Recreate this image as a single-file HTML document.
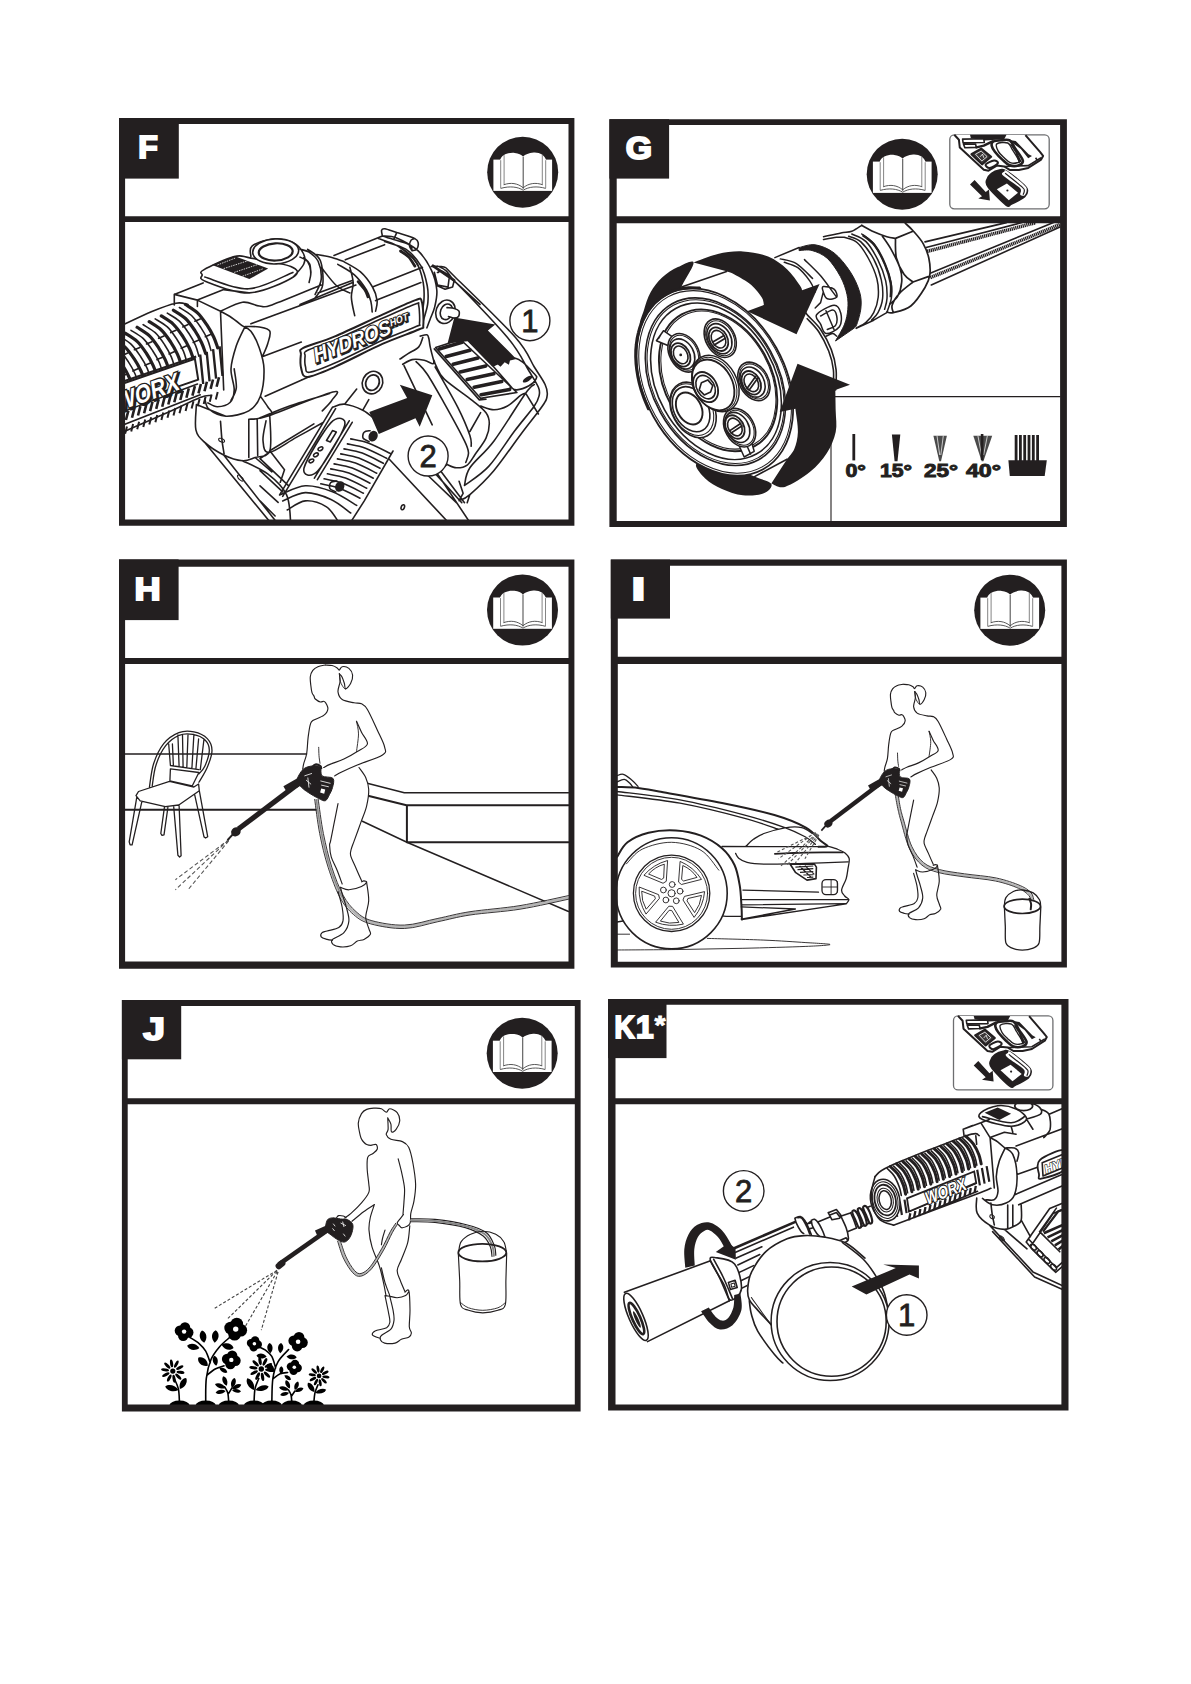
<!DOCTYPE html>
<html><head><meta charset="utf-8"><title>Manual page F–K1</title>
<style>
html,body{margin:0;padding:0;background:#fff}
body{width:1191px;height:1684px;overflow:hidden}
svg{display:block}
.lab{font-family:"Liberation Sans",sans-serif;font-weight:bold;fill:#fff;stroke:#fff;stroke-width:2px;font-size:32px;stroke-linejoin:miter}
.num{font-family:"Liberation Sans",sans-serif;font-size:36px;fill:#231f20}
.ln{fill:none;stroke:#231f20;stroke-width:1.3;stroke-linecap:round;stroke-linejoin:round}
.lw{fill:#fff;stroke:#231f20;stroke-width:1.3;stroke-linecap:round;stroke-linejoin:round}
.lt{fill:none;stroke:#231f20;stroke-width:0.9;stroke-linecap:round;stroke-linejoin:round}
.lb{fill:none;stroke:#231f20;stroke-width:2;stroke-linecap:round;stroke-linejoin:round}
#panelF .ln,#panelG .ln,#panelK .ln{stroke-width:1.6}
#panelF .lw,#panelG .lw,#panelK .lw{stroke-width:1.6}
#panelF .lt,#panelG .lt,#panelK .lt{stroke-width:1.05}
#womanH .ln,#panelJ .ln{stroke-width:1.15}
.ln,.lt,.lb,.lw{vector-effect:non-scaling-stroke}
.bk{fill:#231f20;stroke:none}
.wh{fill:#fff;stroke:none}
</style></head><body>
<svg width="1191" height="1684" viewBox="0 0 1191 1684">
<defs>
<g id="book">
<circle r="35.5" fill="#231f20"/>
<rect x="-29.3" y="-12.6" width="58.7" height="31.3" fill="#fff"/>
<path d="M-22.6 17 V-12 C-21 -18 -14 -19.8 -8 -19.3 C-4 -19 -1.5 -17.5 0.4 -15.6 C2.5 -17.5 6 -19.3 11 -19.6 C17 -20 22 -17 23.4 -12 V17 Z" fill="#fff"/>
<path d="M-22 -12 V16 M-18.6 -17 V12.5 M23 -12 V16 M19.6 -17.5 V12.5" fill="none" stroke="#777" stroke-width="0.9"/>
<path d="M0.5 -15.5 V16.5" fill="none" stroke="#555" stroke-width="1.1"/>
<path d="M-19 12.6 C-12 10 -5 11 0.5 15.6 C6 11 13 10 20 12.6 M-22 16.2 C-13 13.6 -5 14.6 0.5 18 C6 14.6 14 13.6 23 16.2" fill="none" stroke="#444" stroke-width="0.9"/>
</g>
<clipPath id="clipF"><rect x="122" y="219" width="449" height="303"/></clipPath>
<clipPath id="clipG"><rect x="613" y="220" width="450" height="304"/></clipPath>
<clipPath id="clipH"><rect x="122" y="661" width="449" height="303"/></clipPath>
<clipPath id="clipI"><rect x="614" y="660" width="450" height="304"/></clipPath>
<clipPath id="clipJ"><rect x="125" y="1101" width="452" height="306"/></clipPath>
<clipPath id="clipK"><rect x="612" y="1101" width="452" height="306"/></clipPath>
</defs>
<rect width="1191" height="1684" fill="#fff"/>
<g id="panelF" clip-path="url(#clipF)">
<path d="M119.6 326.3 L151.9 311.5 L177.4 302.8 L194.9 304.8 L219 330.3 L224.4 392.1 L200.2 397.5 L165.3 413.6 L119.6 433.7Z" class="wh"/>
<path d="M185.5 304.5 C187.5 305.9 193.9 309.4 197.5 312.8 C201.1 316.2 204.2 320.9 206.9 324.9 C209.6 328.9 211.9 333.2 213.7 337 C215.5 340.8 217 346 217.7 347.8 M173.4 310.2 C175.4 311.6 181.9 315.1 185.5 318.5 C189.1 321.9 192.2 326.6 194.9 330.6 C197.6 334.6 199.8 338.9 201.6 342.7 C203.4 346.5 204.9 351.7 205.6 353.5 M161.3 315.9 C163.3 317.3 169.8 320.9 173.4 324.3 C177 327.7 180.1 332.3 182.8 336.3 C185.5 340.3 187.7 344.6 189.5 348.4 C191.3 352.2 192.8 357.4 193.5 359.2 M149.2 321.6 C151.2 323 157.7 326.6 161.3 330 C164.9 333.4 168 338.1 170.7 342.1 C173.4 346.1 175.6 350.3 177.4 354.1 C179.2 357.9 180.7 363.1 181.4 364.9 M137.1 327.3 C139.1 328.7 145.6 332.3 149.2 335.7 C152.8 339.1 155.9 343.8 158.6 347.8 C161.3 351.8 163.5 356.1 165.3 359.9 C167.1 363.7 168.6 368.8 169.3 370.6 M125 333.1 C127 334.5 133.5 338 137.1 341.4 C140.7 344.8 143.8 349.5 146.5 353.5 C149.2 357.5 151.4 361.8 153.2 365.6 C155 369.4 156.5 374.5 157.2 376.3 M112.9 338.8 C114.9 340.2 121.4 343.7 125 347.1 C128.6 350.5 131.7 355.2 134.4 359.2 C137.1 363.2 139.3 367.5 141.1 371.3 C142.9 375.1 144.5 380.2 145.2 382 M100.8 344.5 C102.8 345.9 109.3 349.4 112.9 352.8 C116.5 356.2 119.6 360.9 122.3 364.9 C125 368.9 127.2 373.2 129 377 C130.8 380.8 132.4 385.9 133.1 387.7 M88.7 350.2 C90.7 351.6 97.2 355.1 100.8 358.5 C104.4 361.9 107.5 366.6 110.2 370.6 C112.9 374.6 115.1 378.9 116.9 382.7 C118.7 386.5 120.3 391.6 121 393.4" fill="none" stroke="#231f20" stroke-width="3.2" stroke-linecap="round"/>
<path class="ln" d="M179.4 307.5 C181.4 308.8 187.9 312.1 191.5 315.5 C195.1 318.9 198.2 323.6 200.9 327.6 C203.6 331.6 205.9 335.9 207.6 339.7 C209.3 343.5 210.4 348.7 211 350.5 M200.2 318.9 L194.9 321.2 M211 334.3 L205.3 336.7 M167.3 313.2 C169.3 314.5 175.8 317.8 179.4 321.2 C183 324.6 186.1 329.3 188.8 333.3 C191.5 337.3 193.8 341.6 195.5 345.4 C197.2 349.2 198.3 354.4 198.9 356.2 M188.1 324.6 L182.8 326.9 M198.9 340 L193.2 342.5 M155.2 318.9 C157.2 320.2 163.7 323.5 167.3 326.9 C170.9 330.2 174 335 176.7 339 C179.4 343 181.7 347.3 183.4 351.1 C185.1 354.9 186.2 360.1 186.8 361.9 M176 330.3 L170.7 332.6 M186.8 345.7 L181.2 348.2 M143.1 324.6 C145.1 326 151.6 329.4 155.2 332.7 C158.8 336 161.9 340.7 164.6 344.7 C167.3 348.7 169.6 353 171.3 356.8 C173 360.6 174.1 365.8 174.7 367.6 M164 336 L158.6 338.3 M174.7 351.5 L169.1 353.9 M131 330.3 C133 331.6 139.5 335 143.1 338.4 C146.7 341.8 149.8 346.5 152.5 350.5 C155.2 354.5 157.6 358.7 159.3 362.5 C161 366.3 162.1 371.5 162.6 373.3 M151.9 341.7 L146.5 344 M162.6 357.2 L157 359.6 M119 336 C121 337.4 127.4 340.7 131 344.1 C134.6 347.5 137.7 352.2 140.4 356.2 C143.1 360.2 145.5 364.5 147.2 368.3 C148.9 372.1 149.9 377.2 150.5 379 M139.8 347.4 L134.4 349.7 M150.5 362.9 L144.9 365.3 M106.9 341.7 C108.9 343.1 115.4 346.4 119 349.8 C122.6 353.2 125.7 357.9 128.4 361.9 C131.1 365.9 133.4 370.2 135.1 374 C136.8 377.8 137.8 382.9 138.4 384.7 M127.7 353.1 L122.3 355.4 M138.4 368.6 L132.8 371 M94.8 347.4 C96.8 348.8 103.3 352.1 106.9 355.5 C110.5 358.9 113.6 363.6 116.3 367.6 C119 371.6 121.3 375.9 123 379.7 C124.7 383.5 125.8 388.6 126.3 390.4 M115.6 358.8 L110.2 361.1 M126.3 374.3 L120.7 376.7 M82.7 353.1 C84.7 354.5 91.2 357.8 94.8 361.2 C98.4 364.6 101.5 369.3 104.2 373.3 C106.9 377.3 109.2 381.6 110.9 385.4 C112.6 389.2 113.7 394.3 114.3 396.1 M103.5 364.6 L98.1 366.8 M114.3 380 L108.6 382.4"/>
<path d="M119.6 384.7 L194.9 358.8 L198.2 379.7 L119.6 406.6Z" fill="#fff" stroke="#231f20" stroke-width="2"/>
<path d="M119.6 382.7 L196.2 356.5" fill="none" stroke="#231f20" stroke-width="2.2"/>
<path d="M200.2 354.5 L203.2 384 M206.7 351.8 L209.6 381.3 M213.1 349.1 L216.1 378.7 M219.6 346.4 L222.5 376" fill="none" stroke="#231f20" stroke-width="2.4"/>
<path d="M219 377.3 L216.6 386.7 M213 379.5 L210.6 388.9 M206.9 381.8 L204.5 391.2 M200.9 384 L198.5 393.4 M194.9 386.2 L192.4 395.6 M188.8 388.4 L186.4 397.8 M182.8 390.6 L180.3 400 M176.7 392.8 L174.3 402.2 M170.7 395.1 L168.3 404.5 M164.6 397.3 L162.2 406.7 M158.6 399.5 L156.2 408.9 M152.5 401.7 L150.1 411.1 M146.5 403.9 L144.1 413.3 M140.4 406.1 L138 415.5 M134.4 408.4 L132 417.8 M128.4 410.6 L125.9 420" fill="none" stroke="#231f20" stroke-width="2.6"/>
<path d="M217.7 392.1 L215.8 399.5 M211.6 394.4 L209.8 401.8 M205.6 396.7 L203.7 404.1 M199.6 398.9 L197.7 406.3 M193.5 401.2 L191.6 408.6 M187.5 403.5 L185.6 410.9 M181.4 405.8 L179.5 413.2 M175.4 408.1 L173.5 415.5 M169.3 410.4 L167.5 417.8 M163.3 412.6 L161.4 420 M157.2 414.9 L155.4 422.3 M151.2 417.2 L149.3 424.6 M145.2 419.5 L143.3 426.9 M139.1 421.8 L137.2 429.2 M133.1 424.1 L131.2 431.5 M127 426.4 L125.1 433.7" fill="none" stroke="#231f20" stroke-width="2"/>
<text x="0" y="0" transform="translate(119.19999999999999 413.0) rotate(-19.5) skewX(-12)" style="font-family:'Liberation Sans',sans-serif;font-weight:bold;font-size:25px;fill:#231f20;stroke:#231f20;stroke-width:3.2px;paint-order:stroke" textLength="66" lengthAdjust="spacingAndGlyphs">WORX</text>
<text x="0" y="0" transform="translate(117.6 411.6) rotate(-19.5) skewX(-12)" style="font-family:'Liberation Sans',sans-serif;font-weight:bold;font-size:25px;fill:#fff;stroke:#231f20;stroke-width:2.6px;paint-order:stroke" textLength="66" lengthAdjust="spacingAndGlyphs">WORX</text>
<path class="ln" d="M119.6 326.5 C125 324 142.5 315.4 151.9 311.5 C161.3 307.6 170 304.4 176 303.2 C182 302 186.1 304.3 188.1 304.5 M119.6 433.5 C127.2 430.2 151.9 419.6 165.3 413.6 C178.7 407.6 192.6 400.5 200.2 397.5 C207.8 394.5 209.2 395.8 211 395.5 M119.6 412.9 L197.5 384 M119.6 426.4 L200.2 394.8 M174.3 294.4 L197.4 300.1 L220.5 311.2 L223.7 389.9 M174.3 294.4 L174.3 304.9 M197.4 300.1 L197.4 306.4 M174.3 294.4 L203.1 282.9 M197.4 300.1 L223.7 289.6 M220.5 311.2 C224.2 309.7 236 303.1 242.5 302.2 C249 301.3 254.4 305.6 259.3 306 C264.2 306.4 261.6 308.4 271.9 304.9 C282.2 301.4 313.1 288.3 321.3 285 M223.7 289.6 L248.8 292.9 M242.5 325.9 C243.9 326.8 248.1 327.5 250.9 331.2 C253.7 334.9 257.1 341.6 259.3 347.9 C261.5 354.2 263.8 360.8 264 368.9 C264.2 376.9 262.9 389.2 260.4 396.2 C257.9 403.2 254.6 407.6 248.8 410.9 C243 414.2 232.4 416.5 225.8 416.2 C219.2 415.9 212.5 412.1 209 409.2 C205.5 406.3 205.5 400.4 204.8 398.7 M245.1 326.5 C243.6 329.7 238.7 338.7 236.3 345.8 C234 352.9 231.3 361.5 231 368.9 C230.7 376.2 234.4 384.3 234.2 389.9 C234 395.5 232.8 399.7 230 402.5 C227.2 405.3 221.1 406.6 217.4 406.7 C213.7 406.8 209.5 403.5 207.9 402.9 M245.1 326.5 C247.5 326.6 255.2 326.2 259.3 327 C263.4 327.8 268.4 328.4 269.8 331.2 C271.2 334 268.9 339.5 267.7 343.7 C266.5 347.9 263.4 354.2 262.5 356.3 M234.2 368.9 C234.5 372 236.8 382.6 236.3 387.8 C235.8 393.1 231.9 398.3 231 400.4 M220.5 311.2 C222.1 312.1 226.3 314.1 230 316.5 C233.7 318.9 240.4 324.3 242.5 325.9 M260.4 396.2 C261.6 397.9 265.8 403.7 267.7 406.7 C269.6 409.7 273.3 412.2 271.9 414.1 C270.5 416 263.1 417.4 259.3 418.3 C255.5 419.2 250.6 419.1 248.8 419.3 M250.9 323.8 L355.9 285 M263.5 356.3 L301.3 342.1 M265.2 396.2 L301.7 379.9 M269.8 415.5 C280.3 411.6 322.5 394.5 332.8 392 C343.1 389.5 333.6 397.2 331.8 400.4 C330.1 403.5 323.9 409.1 322.3 410.9 M301.7 379.9 L331.8 366.8 M196.4 404.6 C196.3 408.8 194.5 423.5 195.9 429.8 C197.3 436.1 200.2 438.2 204.8 442.4 C209.4 446.6 217.4 451.9 223.7 455 C230 458.1 237.3 460.3 242.5 460.7 C247.7 461.1 250.5 459.1 255.1 457.5 C259.6 455.9 267.4 457.8 269.8 450.8 C272.2 443.8 269.8 421.4 269.8 415.5 M196.4 404.6 L225.8 416.2 M248.8 419.3 L248.8 457.5 M257.2 419.3 L257.7 455.4 M220.5 421.4 C220.8 424.5 221.4 434.9 222 440.3 C222.6 445.7 223.8 451.6 224.1 453.9 M269.8 450.8 L313.9 423.9 M223.7 455 L278.2 524.3 M204.8 442.4 L271.9 524.3 M242.5 460.7 C246.7 462.9 260.3 468.2 267.7 473.9 C275.1 479.6 282.8 486.5 286.6 494.9 C290.5 503.3 290.1 519.4 290.8 524.3 M269.8 450.8 L284.5 469.7 L280.3 482.3 M255.1 457.5 L271.9 471.8 M203.7 269.9 C209 266.8 226.3 258.6 234.2 256.6 C242.1 254.6 241.5 256.5 250.9 258.1 C260.3 259.8 283.7 263.4 290.8 266.5 C297.9 269.6 300.2 272.6 293.3 277 C286.4 281.4 264 292.2 249.3 292.9 C234.6 293.6 213 284.2 205.2 281.2 C197.3 278.2 202.4 276.8 202.2 274.9 C201.9 273 198.4 272.9 203.7 269.9Z M204.8 277 C212.1 279 234.1 289.6 248.8 288.8 C263.5 288 285.5 275.1 292.9 272.4 M250.9 256.6 C251.1 254.9 248.5 249 252 246.1 C255.5 243.2 265.1 239.8 271.9 239.2 C278.7 238.6 287.6 240.2 292.9 242.6 C298.1 245 301.6 249.9 303.4 253.5 C305.2 257.1 305.5 260.1 303.8 264 C302.1 267.9 295.1 274.8 293.3 277 M307.6 249.3 C309.7 251.1 317.7 254.2 320.2 260.2 C322.7 266.1 323.6 278.7 322.7 285 C321.8 291.3 316.3 295.8 315 298 M303.8 257.7 C304.8 258.8 308.5 261.2 309.7 264 C310.9 266.8 310.6 272.8 310.8 274.5 M334 255.5 L382.4 235.9 M345.3 259.8 L384.6 244.7 M300 304.4 L352.1 282.8 M318.1 293 L352.9 280.2 M372.5 287 L422.4 267.3 M375.6 300.6 L420.9 282.5 M343.8 261.6 C346.6 263.3 355.7 267.7 360.5 271.9 C365.3 276.1 369.7 282.2 372.5 287 C375.3 291.8 376.6 296.6 377.1 300.6 C377.6 304.6 375.9 309.4 375.6 311.2 M337.8 264.3 C340.6 266.1 349.6 270.6 354.4 274.9 C359.2 279.2 363.7 285.5 366.5 290 C369.3 294.5 370.1 298.5 371 302.1 C371.9 305.8 372 310.3 372.2 311.9 M316.6 254.5 C318.9 254.9 325.7 255.9 330.2 257.1 C334.7 258.3 341.5 260.9 343.8 261.6 M349.9 267.3 C350.4 269.8 352.9 277.4 353.2 282.5 C353.4 287.6 351.1 292.1 351.4 297.6 C351.6 303.1 354.1 312.7 354.7 315.7 M321.2 267.3 C323.7 270.3 331.5 281.2 336.3 285.5 C341.1 289.8 347.6 291.8 349.9 293 M300 249.2 C301.5 249.7 306.1 250.2 309.1 252.2 C312.1 254.2 316.1 256.8 318.1 261.3 C320.1 265.8 321.7 273.9 321.2 279.4 C320.7 284.9 316.1 292 315.1 294.5 M300 257.1 C301.3 257.9 305.8 259.1 307.6 261.6 C309.4 264.1 310.6 268.4 310.9 271.9 C311.1 275.4 309.4 280.7 309.1 282.5 M382.4 235.9 C384.8 236.2 390.8 235.4 396.7 237.9 C402.6 240.4 412.1 245.3 417.9 250.7 C423.7 256.1 428.4 263.8 431.5 270.4 C434.6 276.9 436.2 284 436.8 290 C437.4 296 435.9 301.8 434.8 306.6 C433.7 311.4 431.6 315.2 430.3 318.7 C429 322.2 427.5 326.3 426.9 327.8 M384.6 241.6 C388.1 242.9 399.8 245.2 405.8 249.2 C411.9 253.2 417.3 259.8 420.9 265.8 C424.5 271.9 426 279.4 427.2 285.5 C428.4 291.6 428.3 297.1 427.9 302.1 C427.5 307.1 426 311.4 424.8 315.7 C423.6 320 421.5 325.8 420.9 327.8 M378.6 238.6 C381.9 239.9 391.9 242.2 398.2 246.2 C404.5 250.2 412.2 256.8 416.4 262.8 C420.6 268.9 421.9 276.2 423.2 282.5 C424.4 288.8 424.3 294.6 423.9 300.6 C423.5 306.6 421.4 315.7 420.9 318.7 M382.4 235.9 C382.3 235 381.2 231.5 381.6 230.3 C382 229.1 382.4 228.4 384.9 228.8 C387.4 229.2 391.7 231 396.7 232.6 C401.7 234.2 411.3 236.8 414.9 238.6 C418.5 240.4 417.9 241.4 418.2 243.2 C418.5 245 417.7 247.9 416.7 249.2 C415.7 250.4 412.9 250.4 412.1 250.7 M412.1 250.7 C411.6 249.7 412.7 246.7 409.1 244.7 C405.5 242.7 395.1 240.1 390.7 238.6 C386.2 237.1 383.8 236.3 382.4 235.9 M396.7 232.6 L394 238.9 M412.1 250.7 C411.7 249.9 409.8 248 409.6 246.2 C409.4 244.4 410.2 241.4 411.1 240.1 C412 238.8 414.3 238.8 414.9 238.6 M454.1 280.9 L480 304.4 M436.8 285.5 L445.1 289.3 L452.6 287 L454.1 280.9 M431.3 266.5 C433.4 266.6 440 265.5 443.8 267.1 C447.6 268.7 442.4 264.5 454.3 276.2 C466.2 287.9 502.2 322.4 515.5 337.5 C528.8 352.6 529.4 359.2 534.3 367 C539.2 374.8 543 379.8 545.1 384.5 C547.2 389.2 547.7 391.6 547.2 395.2 C546.8 398.8 546.8 399.5 542.4 406 C538 412.5 529 423.4 520.9 434.2 C512.8 444.9 502.5 460.4 494 470.5 C485.5 480.6 475.7 489.6 469.9 494.6 C464.1 499.6 460.9 499.7 459.1 500.7 M437.5 272.4 C439.6 273.2 438.4 266.1 450.1 277 C461.8 287.9 494.4 321.8 507.5 337.5 C520.6 353.2 523.9 362.7 529 371 C534.1 379.3 536.7 383.2 538.4 387.2 C540.1 391.2 539.9 392.1 539.2 395.2 C538.5 398.3 538.5 399.9 534.3 406 C530.1 412.1 521.8 421.4 514.2 431.5 C506.6 441.6 497 457.4 488.7 466.4 C480.4 475.4 468.5 482.3 464.5 485.5 M437.5 266.1 C438.9 266.9 443.1 268.1 445.9 270.7 C448.7 273.3 452.9 279.9 454.3 281.8 M434.4 272.4 L437.5 285 L448 287.1 L449.1 278.7 M459.1 500.7 L463.1 493.3 L459.1 481.2 M469.9 494.6 L467.2 502.7 M437.5 473.9 L471.1 524.3 M389.3 459.2 L450.1 524.3 M447 464.4 L440.3 470.5 L464.5 502.7 M426.9 474.5 L456.4 502.7 M434.9 473.1 L461.8 502.7 M402.7 364.3 C404.3 363.5 408.5 360.3 412.1 359.6 C415.7 358.9 420.7 359.6 424.2 360.3 C427.7 361 431.3 363.7 432.9 363.7 C434.5 363.7 433.4 360 433.9 360.3 C434.4 360.6 434.3 362.6 436 365.7 C437.7 368.8 438.2 373.3 444.3 379.1 C450.4 384.9 465.6 395 472.5 400.6 C479.4 406.2 483.2 408.9 486 412.7 C488.8 416.5 489.3 419.1 489.3 423.4 C489.3 427.6 488.4 433 486 438.2 C483.6 443.4 478.3 449.8 475.2 454.3 C472.1 458.8 470.3 462.9 467.2 465.1 C464.1 467.4 459.8 467.9 456.4 467.8 C453 467.7 448.6 465 447 464.4 M416.1 361.6 C417.9 363.6 422.2 366.8 426.9 373.7 C431.6 380.6 438 392.1 444.3 403.3 C450.6 414.5 460.5 432.6 464.5 440.9 C468.5 449.2 468.3 449.4 468.5 453 C468.7 456.6 466.2 460.8 465.8 462.4 M435.2 367 C439 373.7 452 395.9 457.8 407.3 C463.6 418.7 467.7 429 469.9 435.5 C472.1 442 471 444.5 471.2 446.3 M480.6 412.7 L469.9 431.5 M404 365.7 L432.2 424.8 M420.2 336.1 C421.3 335.9 425.4 334.4 426.9 334.8 C428.3 335.2 428.3 336.8 428.9 338.8 C429.4 340.8 429.4 343.3 430.2 346.9 C431 350.5 433 358.1 433.6 360.3 M422.8 337.5 C422.1 339.1 421.2 344.2 418.8 346.9 C416.4 349.6 411.2 351.6 408.1 353.6 C405 355.6 401.4 358.1 400 359 M480.6 406 C482.8 406.6 489.5 409.7 494 409.7 C498.5 409.7 503 408.4 507.5 406 C512 403.6 517.9 397.3 520.9 395.2 C523.9 393.1 524.8 393.5 525.6 393.2 M525.6 393.2 L538.4 414 M534.3 384.5 C532.8 385.9 532.3 383.8 525.6 393.2 C518.9 402.6 503.3 428.5 494 440.9 C484.7 453.3 474.8 460.4 469.9 467.8 C465 475.2 465.4 482.3 464.5 485.2 M435.6 347.5 L460.5 339.5 L516.9 392.5 L480.6 398.2Z M434.3 348.9 L479.3 399.9 L486 399.3 M492.7 365.7 C496.5 364.5 508.6 357 515.5 358.3 C522.4 359.6 530.9 370.2 534.3 373.7 C537.7 377.2 536.8 377.1 535.9 379.1 C535 381.1 532.2 384 529 385.8 C525.8 387.6 520 389.7 516.9 389.9 C513.8 390.1 511.3 387.6 510.2 387.2 M492.7 365.7 L511.5 387.2 M350.7 438.9 C353.7 439.6 362.2 440.8 368.8 443.2 C375.4 445.6 386.5 451.6 390 453.3 M347.4 443.9 C350.4 444.6 359 445.8 365.5 448.2 C372 450.6 383.1 456.6 386.6 458.3 M344 448.9 C347 449.6 355.6 450.7 362.2 453.1 C368.8 455.5 379.8 461.6 383.3 463.3 M340.7 453.9 C343.7 454.6 352.2 455.7 358.8 458.1 C365.4 460.5 376.5 466.6 380 468.3 M337.4 458.9 C340.4 459.6 348.9 460.7 355.5 463.1 C362.1 465.5 373.2 471.5 376.7 473.2 M334.1 463.9 C337.1 464.6 345.7 465.7 352.2 468.1 C358.7 470.5 369.8 476.5 373.3 478.2 M330.7 468.9 C333.7 469.6 342.3 470.7 348.9 473.1 C355.4 475.5 366.5 481.5 370 483.2 M327.4 473.8 C330.4 474.5 338.9 475.7 345.5 478.1 C352.1 480.5 363.2 486.5 366.7 488.2 M324.1 478.8 C327.1 479.5 335.6 480.7 342.2 483.1 C348.8 485.5 359.9 491.5 363.4 493.2 M320.8 483.8 C323.8 484.5 332.4 485.7 338.9 488.1 C345.4 490.5 356.5 496.5 360 498.2 M332.5 407.2 L279.6 494.9 M335.6 408.7 L282.7 496.4 M352.2 422.3 L317.4 479.7 M349.2 420.8 L314.4 478.2 M331 422.6 C337.8 415.6 346.8 417.5 344.6 425.6 C342.4 433.7 324.4 464 317.7 471 C310.9 478 301.9 475.8 304.1 467.7 C306.3 459.6 324.2 429.6 331 422.6Z M326.5 440.5 L332.5 430.6 L336.3 432.1 L330.3 442Z M332.5 407.2 C334.5 406.7 339.6 403.7 344.6 404.2 C349.7 404.7 357.8 407.7 362.8 410.2 C367.9 412.7 372.9 417.8 374.9 419.3 M279.6 494.9 C283.9 493.4 296.5 486.3 305.3 485.8 C314.1 485.3 323.9 488.5 332.5 491.8 C341.1 495.1 352.7 503.1 356.7 505.4 M282.7 500.9 C286.5 499.5 297.2 492.9 305.3 492.6 C313.4 492.4 323.4 496 331 499.4 C338.6 502.8 347.4 510.7 350.7 513 M287.2 510 C290.2 508.5 298.8 501.4 305.3 500.9 C311.9 500.4 320.9 503.4 326.5 506.9 C332.1 510.4 336.6 519.6 338.6 522.1 M393 451 L364.3 500.9 L350.7 522.1 M260 470.7 L282.7 491.8 M260 458.6 L288.7 485.8 M260 485.8 L278.1 502.4 M260 500.9 L275.1 516 M344.6 404.2 L356.7 389.1 M362.8 410.2 L368.8 399.6 M260 417.8 C265 415.8 278.6 409.7 290.2 405.7 C301.8 401.7 322.9 395.6 329.5 393.6 M266 420.8 C265.5 424.1 262.5 435.2 263 440.5 C263.5 445.8 263.6 453 269.1 452.5 C274.7 452 287.2 442.4 296.3 437.4 C305.4 432.4 319 424.8 323.5 422.3 M269.1 452.5 L260 458.6"/>
<path class="lt" d="M221.6 440.3 m-3 -1 a3 1.6 25 1 0 6 2 a3 1.6 25 1 0 -6 -2 M240.4 478.1 m-3 -2 a3.4 1.4 45 1 0 6 4 a3.4 1.4 45 1 0 -6 -4"/>
<path d="M212.1 265 L234.2 256 L268.2 268.6 L249.3 279.1Z" fill="#231f20"/>
<path d="M217.4 265 L235.2 258.1M223.7 268.6 L250.9 259.8M234.2 272.4 L259.3 264M242.5 276.2 L263.5 268.6" fill="none" stroke="#fff" stroke-width="0.8" stroke-dasharray="1.5 1"/>
<ellipse cx="275.7" cy="251.4" rx="23" ry="12.5" class="lw" transform="rotate(-3 275.7 251.4)"/>
<ellipse cx="275.7" cy="251.9" rx="17" ry="8.6" class="lw" style="stroke-width:2.2" transform="rotate(-3 275.7 251.4)"/>
<path d="M400.5 251 C401.9 252 406.4 254.6 408.8 257.1 C411.2 259.6 413.9 264.6 414.9 266.1M358.2 281.7 C359.3 283.1 363.4 287.5 365 290 C366.6 292.5 367.5 295.7 368 296.8M433 265.8 L454.1 280.3" fill="none" stroke="#231f20" stroke-width="2.8" stroke-linecap="round"/>
<path d="M404.3 250 C405.7 251.2 410.3 254.6 412.6 257.1 C414.9 259.6 417 263.8 417.9 265.1" fill="none" stroke="#231f20" stroke-width="1.6" stroke-linecap="round"/>
<path d="M303.4 347.9 C309.1 344.9 321.6 342 334.9 336.4 C348.2 330.8 369.6 320.4 383 314.4 C396.4 308.3 409 302.2 415.5 300.1 C422 298 420.5 297.7 421.8 301.8 C423.1 305.9 423.8 320.3 423.3 324.9 C422.8 329.5 425.4 326.4 418.7 329.5 C412 332.6 397 337.5 383 343.7 C369 349.9 347.5 361.3 334.9 366.8 C322.3 372.3 313.2 376.5 307.6 376.9 C302 377.2 302.4 372.7 301.3 368.9 C300.2 365.1 300.5 357.7 300.9 354.2 C301.2 350.7 297.7 350.9 303.4 347.9Z" class="lw" style="stroke-width:2"/>
<path d="M307.2 350.5 C312.2 347.9 322.3 345.4 334.9 340 C347.5 334.6 369.7 324.1 383 318.1 C396.3 312.2 408.9 306.4 414.9 304.3 C420.8 302.2 417.9 302.4 418.7 305.5 C419.5 308.6 419.9 319.7 419.5 323.2 C419.1 326.7 422.2 323.7 416.1 326.5 C410 329.3 396.5 333.9 383 340 C369.5 346.1 347.1 357.7 334.9 363.1 C322.7 368.5 314.6 371.7 309.7 372.3 C304.8 372.9 306.3 369.5 305.5 366.8 C304.7 364.1 304.8 358.6 305.1 355.9 C305.4 353.2 302.2 353.1 307.2 350.5Z" class="ln"/>
<text x="0" y="0" transform="translate(316.2 364.20000000000005) rotate(-21) skewX(-14)" style="font-family:'Liberation Sans',sans-serif;font-weight:bold;font-size:21px;fill:#231f20;stroke:#231f20;stroke-width:2.4px;paint-order:stroke" textLength="101" lengthAdjust="spacingAndGlyphs">HYDROS<tspan style="font-size:10px" dy="-7">HOT</tspan></text>
<text x="0" y="0" transform="translate(315.0 363.1) rotate(-21) skewX(-14)" style="font-family:'Liberation Sans',sans-serif;font-weight:bold;font-size:21px;fill:#fff;stroke:#231f20;stroke-width:2.0px;paint-order:stroke" textLength="101" lengthAdjust="spacingAndGlyphs">HYDROS<tspan style="font-size:10px" dy="-7">HOT</tspan></text>
<path d="M439.2 348.9 L462.1 342.3 M446.2 356.5 L470 350.2 M453.2 364.2 L477.9 358 M460.2 371.9 L485.8 365.9 M467.2 379.5 L493.8 373.7 M474.2 387.2 L501.7 381.6 M481.1 394.8 L509.6 389.5" fill="none" stroke="#231f20" stroke-width="3.6" stroke-linecap="round"/>
<ellipse cx="527.6" cy="379.1" rx="5.5" ry="2.2" class="bk" transform="rotate(-32 527.6 379.1)"/>
<ellipse cx="372.5" cy="382.6" rx="10" ry="11.5" class="lw" transform="rotate(25 372.5 382.6)"/><ellipse cx="372.5" cy="382.6" rx="6.6" ry="8" class="lw" style="stroke-width:1.8" transform="rotate(25 372.5 382.6)"/>
<ellipse cx="445.5" cy="311.8" rx="9.5" ry="12" class="lw" transform="rotate(20 445.5 311.8)"/><ellipse cx="446.5" cy="311.8" rx="6" ry="8" class="lw" transform="rotate(20 446.5 311.8)"/>
<path d="M447 307.6 C448.2 307.8 452.3 307.9 454.3 308.5 C456.3 309.1 458.3 309.9 459 311.2 C459.7 312.5 459.3 315.4 458.5 316.5 C457.7 317.6 456 318.1 454.3 318.1 C452.6 318.1 449.5 316.8 448.5 316.5" class="lw"/>
<ellipse cx="373.1" cy="436.2" rx="4.5" ry="5.5" class="bk" transform="rotate(25 373.1 436.2)"/>
<path d="M370.1 430.7 C369.1 430.9 365.3 430.9 364.1 432.2 C362.9 433.4 362.3 436.6 363.1 438.2 C363.9 439.8 368.1 441.1 369.1 441.7" class="ln"/>
<ellipse cx="339.8" cy="486.5" rx="4.5" ry="5.5" class="bk" transform="rotate(25 339.8 486.5)"/>
<path d="M336.8 481 C335.8 481.2 332 481.2 330.8 482.5 C329.6 483.8 329 486.9 329.8 488.5 C330.6 490.1 334.8 491.4 335.8 492" class="ln"/>
<ellipse cx="320.5" cy="448.8" rx="2.6" ry="1.6" class="ln" transform="rotate(-30 320.5 448.8)"/>
<ellipse cx="315.9" cy="454.8" rx="2.6" ry="1.6" class="ln" transform="rotate(-30 315.9 454.8)"/>
<ellipse cx="311.4" cy="460.9" rx="2.6" ry="1.6" class="ln" transform="rotate(-30 311.4 460.9)"/>
<ellipse cx="402.8" cy="507.2" rx="1.6" ry="2.6" class="ln" transform="rotate(20 402.8 507.2)"/>
<path d="M454.3 317.5 L495.3 324.4 L487.9 330.5 L516.3 358.9 L510 360.5 L508.9 364.7 L504.7 362.2 L500.5 366.8 L497.4 364.3 L492.1 366.4 L467.6 341.2 L447.6 343.3Z" class="bk"/>
<path d="M432.3 395.2 L399.8 384.7 L407.1 397.9 L369.3 412 L378.8 434 L415.5 418.3 L419.7 426.7Z" class="bk"/>
<circle cx="529.9" cy="320.7" r="20" class="lw" style="stroke-width:1.4"/>
<text x="529.9" y="331.7" text-anchor="middle" style="font-family:'Liberation Sans',sans-serif;font-size:31px;fill:#231f20;stroke:#231f20;stroke-width:0.8px">1</text>
<circle cx="428.1" cy="456.0" r="20" class="lw" style="stroke-width:1.4"/>
<text x="428.1" y="467.0" text-anchor="middle" style="font-family:'Liberation Sans',sans-serif;font-size:31px;fill:#231f20;stroke:#231f20;stroke-width:0.8px">2</text>
</g>
<g id="panelG">
<g transform="translate(949.2 134.2)">
<rect x="0.6" y="0.6" width="99.4" height="74" rx="4.5" fill="#fff" stroke="#6d6e70" stroke-width="1.3"/>
<path d="M5.1 0.6 L9.7 5.5 L10.6 13.4 L34.6 35.6 L39.3 36.5 L47.6 31.4 L55 32.3 L60.5 35.7 L69.7 35.7 L79 33.7 L91.9 25.4 L93.9 21.7 L91 18 L76.2 0.9" fill="#fff" stroke="#231f20" stroke-width="2" stroke-linejoin="round"/>
<path d="M20.8 0.6 L57.3 0.6 L55 5.1 L35.6 6.2 L21.7 4Z" fill="#231f20"/>
<path d="M13.4 4.9 L34.6 4.6 L35.1 8.3 L13.9 8.6ZM14.3 9.9 L26.3 9.7 L27.2 13.2 L15.7 13.6Z" fill="#fff" stroke="#231f20" stroke-width="1.6" stroke-linejoin="round"/>
<path d="M26.3 13.4 L34.6 11.5 L43.9 6.9" fill="none" stroke="#231f20" stroke-width="2.4" stroke-linejoin="round"/>
<path d="M22.2 20 L32 14.3 L42 22.6 L32.8 30.2Z" fill="#3a3637" stroke="#231f20" stroke-width="2" stroke-linejoin="round"/>
<path d="M26.3 20 L32 16.9 L37.9 22.4 L32.6 26.8ZM30.9 22.6 L33.3 19.9 L34.6 23.6" fill="none" stroke="#fff" stroke-width="0.8"/>
<path d="M36.5 30.2 C37.2 28.9 42.8 26.5 44.8 26.3 C46.8 26.1 49.4 27.8 48.7 29.1 C48 30.4 42.4 33.7 40.4 33.9 C38.4 34.1 35.8 31.5 36.5 30.2Z" fill="#fff" stroke="#231f20" stroke-width="2" stroke-linejoin="round"/>
<path d="M43.9 7.4 C45.5 6.5 49.4 6.2 52.2 6 C55 5.8 58.2 4.8 60.5 6.2 C62.8 7.6 63.8 11 66 14.3 C68.2 17.7 73 23.5 73.6 26.3 C74.2 29.1 71.9 30.3 69.7 31.1 C67.5 31.9 63.3 32.1 60.5 31.1 C57.7 30.2 55.6 27.7 53.1 25.4 C50.6 23.1 47.5 19.8 45.7 17.5 C43.9 15.2 42.8 13.2 42.5 11.5 C42.2 9.8 42.3 8.3 43.9 7.4Z" fill="#fff" stroke="#231f20" stroke-width="2.6" stroke-linejoin="round"/>
<path d="M47.6 9.7 C49.2 8.3 56 7.8 58.6 8.8 C61.2 9.8 61.4 12.8 63.3 15.7 C65.1 18.6 68.9 24.1 69.7 26.3 C70.5 28.5 69.4 28.2 67.9 28.6 C66.5 29 63.1 29.2 61 28.4 C58.9 27.6 57 25.5 55 23.6 C53 21.7 50.2 19.2 49 16.9 C47.8 14.6 46 11 47.6 9.7Z" fill="none" stroke="#231f20" stroke-width="1.4" stroke-linejoin="round"/>
<path d="M60.5 5.8 L66.5 6.7 L79.4 20 L82.8 21.9 L79 24 L71.6 14.8 L64.7 9.7Z" fill="#231f20"/>
<path d="M60.5 9.7 L64.2 10.6 L72.5 27.2 L69.7 29.1 L66 18Z" fill="#231f20"/>
<path d="M55 32.3 L79 31.4 L91.9 23.6M86.4 23.6 L88.2 26.3" fill="none" stroke="#231f20" stroke-width="1.6"/>
<path d="M37.4 46.2 C37.9 43.9 39.7 41.1 42 39.4 C44.3 37.6 48.8 36.2 51.3 35.7 C53.8 35.2 53.1 34.3 57 36.7 C60.9 39.1 70.9 47.1 74.4 50.3 C77.9 53.5 78 53.9 78.2 55.9 C78.4 57.9 78.2 60.2 75.5 62.5 C72.8 64.8 65.4 68.5 62.3 69.9 C59.2 71.3 60.6 73.6 56.8 70.8 C53 68 42.5 57.4 39.3 53.3 C36.1 49.2 36.9 48.5 37.4 46.2Z" fill="#231f20" stroke="#231f20" stroke-width="1.6" stroke-linejoin="round"/>
<path d="M55 37.6 C55.7 36.9 54.6 34.8 57.9 37 C61.2 39.2 71.5 47.6 74.8 50.7 C78.1 53.9 77.4 54.1 77.5 55.9 C77.6 57.6 76.4 60.4 75.3 61.2 C74.2 62 71.7 61.3 71.1 60.5 C70.5 59.7 72.1 57.6 71.8 56.3 C71.5 55 72.3 55.1 69.3 52.6 C66.3 50.1 56 43.6 53.6 41.1 C51.2 38.6 54.3 38.3 55 37.6Z" fill="#fff"/>
<path d="M55.9 39.1 C58.8 41.4 69.8 50 73 52.9 C76.2 55.8 74.9 55.3 75.1 56.6 C75.2 57.9 74.1 59.9 73.9 60.5" fill="none" stroke="#231f20" stroke-width="1.2"/>
<path d="M47.6 55 L57.7 49.4 L68.8 58.6 L59.6 66Z" fill="#fff"/>
<circle cx="58.2" cy="56.3" r="1.1" fill="#231f20"/>
<path d="M20.8 50.3 L25.4 45.7 L36.5 57.9 L39.8 55.4 L40.7 66.2 L29.1 64.4 L32.8 62Z" fill="#231f20"/>
</g>
<path class="ln" d="M925 241.9 L1006.3 222.6 M926.1 247.6 L1022 222.6 M929.6 273.4 L1053.5 222.6 M931.3 285 L1060 227"/>
<path d="M927.1 251.4 L1035.7 222.6M930.3 277.6 L1060 224.5" fill="none" stroke="#231f20" stroke-width="3.6" stroke-dasharray="1.3 0.6"/>
<path d="M861.7 224.7 C867 221.3 896.8 222.3 905.3 223.3 C913.8 224.3 910 227.3 913 230.7 C916 234.1 920.7 239.2 923.3 243.8 C925.9 248.4 927.7 252.9 928.8 258 C929.9 263.1 930.5 269.5 929.9 274.4 C929.3 279.3 928.2 282.2 925 287.5 C921.8 292.8 916.1 301.8 910.8 306 C905.5 310.2 897.3 311.6 893.3 312.6 C889.3 313.6 887.2 314.4 886.8 312 C886.4 309.6 890.4 303.2 891.1 298.4 C891.8 293.6 892.2 288.9 891.1 283.1 C890 277.3 887.5 270.1 884.6 263.5 C881.7 256.9 877.5 250.3 873.7 243.8 C869.9 237.3 856.4 228.1 861.7 224.7Z" fill="#fff" stroke="none"/>
<path class="ln" d="M905.3 223.3 C906.6 224.5 910 227.3 913 230.7 C916 234.1 920.7 239.2 923.3 243.8 C925.9 248.4 927.7 252.9 928.8 258 C929.9 263.1 930.5 269.5 929.9 274.4 C929.3 279.3 928.2 282.2 925 287.5 C921.8 292.8 916.1 301.8 910.8 306 C905.5 310.2 897.3 311.6 893.3 312.6 C889.3 313.6 887.9 312.1 886.8 312 M895.5 238.4 L913 231.3 M895.5 238.4 C895.6 241.7 894.9 252 896.4 258 C897.9 264 901.4 270.4 904.2 274.4 C907 278.4 911.5 280.7 913 282 M913 282 L928.2 276.6 M913 282 C910.8 283.8 903.4 289.1 899.9 292.9 C896.4 296.7 893.3 301.7 892.2 305 C891.1 308.3 893.1 311.3 893.3 312.6 M861.7 225.3 C863.7 226.4 869.5 229.9 873.7 231.8 C877.9 233.7 883.2 235.6 886.8 236.7 C890.4 237.8 894 238.1 895.5 238.4 M882.4 236.2 C883.9 238.4 888.2 244 891.1 249.3 C894 254.6 898.1 262.4 899.9 267.8 C901.7 273.2 902.1 277.3 901.7 282 C901.3 286.7 899.7 292.6 897.7 296.2 C895.8 299.8 891.3 302.6 890 303.9" style="stroke-width:1.7"/>
<path class="ln" d="M861.7 234 C863.7 235.6 869.9 238.9 873.7 243.8 C877.5 248.7 881.7 256.9 884.6 263.5 C887.5 270.1 890 277.3 891.1 283.1 C892.2 288.9 892 293.5 891.3 298.4 C890.6 303.3 887.5 310.2 886.8 312.6 M851.8 234 C854.2 235.3 861.6 237.2 866 241.6 C870.4 246 874.7 253.6 878 260.2 C881.3 266.8 884.2 274.5 885.7 280.9 C887.2 287.3 887.2 293.7 887 298.4 C886.8 303.1 885 307.5 884.6 309.3 M848.6 236.2 C850.6 237.1 856.4 237.8 860.6 241.6 C864.8 245.4 870.2 252.7 873.7 259.1 C877.2 265.5 879.8 273.2 881.3 279.8 C882.8 286.4 883.1 292.9 882.6 298.4 C882.1 303.9 879.9 309 878 312.6 C876.1 316.2 872.6 318.9 871.5 320.2 M844.2 237.3 C846.4 238.2 853.3 239.2 857.3 242.7 C861.3 246.1 864.9 252 868.2 258 C871.5 264 875.2 272.2 876.9 278.8 C878.6 285.4 878.7 291.7 878.2 297.3 C877.7 302.9 875.7 308.4 873.7 312.6 C871.7 316.8 868.9 319.8 866 322.4 C863.1 325 857.8 327.2 856.2 328.1 M856.2 328.4 L873.7 320.2 L886.8 312.6 M823.5 236.7 C826.4 236.1 836.2 233.8 840.9 232.9 C845.6 232 848.3 232.6 851.8 231.3 C855.3 230 860.1 226.3 861.7 225.3 M823.5 239.5 C825.7 239.1 833 237.7 836.5 237.3 C840 236.9 842.9 237.3 844.2 237.3" style="stroke-width:1.5"/>
<path d="M862.7 235.1 C864.7 236.8 871.1 240.6 874.8 245.5 C878.5 250.4 882.5 258.3 885.1 264.6 C887.8 270.9 889.8 277.7 890.7 283.1 C891.6 288.6 890.7 294.9 890.7 297.3" fill="none" stroke="#231f20" stroke-width="2.4"/>
<path d="M799.1 247.5 C801.8 247.1 809.4 243.9 815.2 244.8 C821 245.7 828.2 248.4 834 252.9 C839.8 257.4 845.9 265.2 850.2 271.7 C854.5 278.2 857.8 285.8 859.6 291.9 C861.4 297.9 861.4 302.6 860.9 308 C860.4 313.4 858 320.8 856.9 324.1 C855.8 327.5 854.7 327.4 854.2 328.1 L835.5 341 C837 338.2 842.6 329.4 844.6 324.1 C846.6 318.8 847.4 314.2 847.8 309.3 C848.2 304.4 848.2 300 847 294.5 C845.8 289 843.7 282.5 840.4 276.5 C837.1 270.5 832.1 262.7 827.4 258.4 C822.7 254.1 816.7 251.8 812 250.5 C807.3 249.2 801.2 250.6 799.1 250.6Z" fill="#231f20" stroke="#231f20" stroke-width="1"/>
<path class="ln" d="M774.9 257.6 L799.1 247.5 M804.5 259.6 C807.2 262.3 815.9 270.3 820.6 275.7 C825.3 281.1 830 288.3 832.7 291.9 C835.4 295.5 836 296.3 836.7 297.2 M784.3 262.3 C786.5 263.2 793.5 264.6 797.8 267.7 C802.1 270.8 807 277.1 809.9 281.1 C812.8 285.1 814.3 290.1 815.2 291.9 M780.3 258.9 C783 259.7 791 260.4 796.4 263.6 C801.8 266.9 809.8 275.9 812.5 278.4 M823.3 286.5 C825.1 286.1 831.8 287.4 834 289.2 C836.2 291 837.8 295.6 836.7 297.2 C835.6 298.8 829.5 299.7 827.3 298.8 C825.1 297.9 824 293.9 823.3 291.9 C822.6 289.8 821.5 286.9 823.3 286.5Z M816.6 314.7 C818.8 311.6 830 305.5 834 305.3 C838 305.1 839.9 309.7 840.8 313.3 C841.7 316.9 841.9 323.4 839.4 326.8 C836.9 330.2 829.1 333.9 826 333.5 C822.9 333.1 822.2 327.2 820.6 324.1 C819 321 814.4 317.8 816.6 314.7Z M820.6 316 C822.6 315 830 310 832.7 310 C835.4 310 836.2 313.4 836.7 316 C837.2 318.6 837.2 323.1 835.6 325.4 C834 327.6 828.7 328.8 827.3 329.5 M826 310.7 L834 329.5 M815.2 308 L820.6 302.6 L823.3 291.9 M826 336.2 C827.1 335.8 830.9 333.5 832.7 333.5 C834.5 333.5 836 335.8 836.7 336.2" style="stroke-width:1.5"/>
<path class="ln" d="M803.1 308 C803.8 309.1 804.3 311.1 807.2 314.7 C810.1 318.3 816.6 323.7 820.6 329.5 C824.6 335.3 828.7 342.9 831.3 349.6 C833.9 356.3 835.4 363.1 836.1 369.8 C836.8 376.5 835.7 386.5 835.6 389.9" style="stroke-width:1.6"/>
<path class="ln" d="M807.2 318.7 C809.1 320.8 815 326.1 818.6 331.5 C822.2 336.9 826.2 344.6 828.7 351 C831.2 357.4 832.7 363.5 833.4 369.8 C834.1 376.1 833.1 385.5 833.1 388.6"/>
<path d="M693.6 262.5 C693.1 259.1 683.1 264.6 677.9 267.1 C672.6 269.6 666.6 273.4 662.1 277.6 C657.6 281.8 653.6 286.9 650.6 292.3 C647.6 297.7 645.6 304.4 643.9 310.2 C642.2 316 638 323.5 640.5 327 C643 330.5 652.2 337.8 659 331.2 C665.8 324.6 675.2 298.9 681 287.5 C686.8 276.1 694.1 265.9 693.6 262.5Z" class="bk"/>
<path d="M754.5 476.6 C762 480 769.7 481 771.3 483.8 C772.9 486.6 768.6 491.3 763.9 493.2 C759.2 495.1 749.9 496 742.9 495.3 C735.9 494.6 728.3 491.8 722 489 C715.7 486.2 709.4 482.8 705.2 478.5 C701 474.2 693.3 465.9 696.8 463.4 C700.3 460.9 716.6 461.2 726.2 463.4 C735.8 465.6 747 473.2 754.5 476.6Z" class="bk"/>
<ellipse cx="714.8" cy="382.1" rx="99.7" ry="70.4" transform="rotate(61 714.8 382.1)" class="lw" style="stroke-width:1.8"/>
<ellipse cx="715.1" cy="381.9" rx="97.2" ry="68.6" transform="rotate(61 715.1 381.9)" class="lt" />
<path d="M648.5 408.8 C647.6 406.7 644.7 400.3 643.2 395.9 C641.6 391.6 640.3 387.2 639.2 382.8 C638.1 378.4 637.3 374 636.7 369.6 C636.1 365.3 635.8 360.9 635.7 356.7 C635.6 352.5 635.8 348.3 636.3 344.3 C636.7 340.3 637.4 336.3 638.4 332.6 C639.3 328.9 640.5 325.3 642 321.9 C643.4 318.5 645.1 315.3 647 312.3 C648.8 309.4 651 306.6 653.3 304.1 C655.6 301.7 658.1 299.4 660.8 297.5 C663.5 295.5 666.4 293.8 669.4 292.4 C672.4 291 675.5 289.9 678.8 289.1 C682.1 288.4 685.5 287.9 689 287.7 C692.4 287.5 697.8 288 699.6 288" fill="none" stroke="#231f20" stroke-width="3" stroke-linecap="round"/>
<ellipse cx="715.4" cy="381.7" rx="89.2" ry="63.0" transform="rotate(61 715.4 381.7)" class="ln" style="stroke-width:1.6"/>
<ellipse cx="715.6" cy="381.6" rx="87.2" ry="61.6" transform="rotate(61 715.6 381.6)" class="lt" />
<ellipse cx="716.0" cy="381.3" rx="83.2" ry="58.8" transform="rotate(61 716.0 381.3)" class="ln" />
<ellipse cx="718.1" cy="380.3" rx="75.3" ry="53.2" transform="rotate(61 718.1 380.3)" class="ln" style="stroke-width:1.9"/>
<ellipse cx="718.4" cy="380.1" rx="73.3" ry="51.7" transform="rotate(61 718.4 380.1)" class="lt" />
<path class="lw" d="M672.8 337.1 L663.5 330.7 L656.4 340.7 L668.5 345.7M661.7 333.2 L658.5 338.5M738.5 444.2 L744.2 457 L754.2 451.3 L751.3 441.3M746.3 444.2 L750.6 454.1" style="stroke-width:1.5"/>
<ellipse cx="684.0" cy="352.8" rx="20.5" ry="14.5" transform="rotate(61 684.0 352.8)" class="lw" style="stroke-width:1.6"/>
<ellipse cx="684.0" cy="352.8" rx="18.6" ry="13.1" transform="rotate(61 684.0 352.8)" class="lt" />
<ellipse cx="682.3" cy="353.9" rx="16.0" ry="11.3" transform="rotate(61 682.3 353.9)" class="ln" />
<ellipse cx="680.7" cy="354.9" rx="12.5" ry="8.8" transform="rotate(61 680.7 354.9)" class="lw" style="stroke-width:1.8"/>
<ellipse cx="680.7" cy="354.9" rx="9.4" ry="6.6" transform="rotate(61 680.7 354.9)" class="ln" />
<ellipse cx="720.2" cy="338.2" rx="20.5" ry="14.5" transform="rotate(61 720.2 338.2)" class="lw" style="stroke-width:1.6"/>
<ellipse cx="720.2" cy="338.2" rx="18.6" ry="13.1" transform="rotate(61 720.2 338.2)" class="lt" />
<ellipse cx="719.4" cy="338.7" rx="16.0" ry="11.3" transform="rotate(61 719.4 338.7)" class="ln" />
<ellipse cx="718.5" cy="339.2" rx="12.5" ry="8.8" transform="rotate(61 718.5 339.2)" class="lw" style="stroke-width:1.8"/>
<ellipse cx="718.5" cy="339.2" rx="9.4" ry="6.6" transform="rotate(61 718.5 339.2)" class="ln" />
<ellipse cx="753.9" cy="381.4" rx="20.5" ry="14.5" transform="rotate(61 753.9 381.4)" class="lw" style="stroke-width:1.6"/>
<ellipse cx="753.9" cy="381.4" rx="18.6" ry="13.1" transform="rotate(61 753.9 381.4)" class="lt" />
<ellipse cx="752.6" cy="382.1" rx="16.0" ry="11.3" transform="rotate(61 752.6 382.1)" class="ln" />
<ellipse cx="751.3" cy="382.8" rx="12.5" ry="8.8" transform="rotate(61 751.3 382.8)" class="lw" style="stroke-width:1.8"/>
<ellipse cx="751.3" cy="382.8" rx="9.4" ry="6.6" transform="rotate(61 751.3 382.8)" class="ln" />
<ellipse cx="739.6" cy="427.7" rx="20.5" ry="14.5" transform="rotate(61 739.6 427.7)" class="lw" style="stroke-width:1.6"/>
<ellipse cx="739.6" cy="427.7" rx="18.6" ry="13.1" transform="rotate(61 739.6 427.7)" class="lt" />
<ellipse cx="737.3" cy="427.4" rx="16.0" ry="11.3" transform="rotate(61 737.3 427.4)" class="ln" />
<ellipse cx="734.9" cy="427.0" rx="12.5" ry="8.8" transform="rotate(61 734.9 427.0)" class="lw" style="stroke-width:1.8"/>
<ellipse cx="734.9" cy="427.0" rx="9.4" ry="6.6" transform="rotate(61 734.9 427.0)" class="ln" />
<path class="ln" d="M712.8 342.1 L723.5 335.7M714.2 345 L724.9 338.5M747 388.5 L755.6 376.4M749.2 389.9 L757.7 378.2M729.9 430.6 L740.6 423.5M731.1 433 L742 425.9" style="stroke-width:1.7"/>
<circle cx="680.7" cy="354.9" r="1.4" class="bk"/>
<ellipse cx="693.1" cy="409.9" rx="29.5" ry="20.8" transform="rotate(61 693.1 409.9)" class="lw" style="stroke-width:1.6"/>
<ellipse cx="692.2" cy="409.6" rx="27.5" ry="19.4" transform="rotate(61 692.2 409.6)" class="lt" />
<ellipse cx="691.1" cy="409.2" rx="24.0" ry="16.9" transform="rotate(61 691.1 409.2)" class="ln" />
<ellipse cx="689.2" cy="408.5" rx="17.0" ry="12.0" transform="rotate(61 689.2 408.5)" class="lw" style="stroke-width:1.9"/>
<ellipse cx="715.6" cy="383.5" rx="30.0" ry="21.2" transform="rotate(61 715.6 383.5)" class="lw" style="stroke-width:1.5"/>
<ellipse cx="714.5" cy="384.2" rx="28.6" ry="20.2" transform="rotate(61 714.5 384.2)" class="lt" />
<ellipse cx="713.2" cy="384.9" rx="27.0" ry="19.1" transform="rotate(61 713.2 384.9)" class="lw" style="stroke-width:1.9"/>
<ellipse cx="705.6" cy="387.1" rx="16.0" ry="11.3" transform="rotate(61 705.6 387.1)" class="ln" style="stroke-width:1.8"/>
<ellipse cx="705.6" cy="387.1" rx="12.5" ry="8.8" transform="rotate(61 705.6 387.1)" class="ln" />
<path class="ln" d="M701.4 382.8 L707.8 379.9 L712.8 385.6 L710.6 392.1 L704.2 394.9 L699.2 389.9Z"/>
<path d="M693.6 262.5 C697.6 261.1 709.6 255.8 717.8 253.9 C726 252.1 734.5 250.9 742.9 251.4 C751.3 251.9 760.8 253.6 768.1 256.6 C775.5 259.6 781.8 264.5 787 269.2 C792.2 273.9 797.1 281.5 799.6 285 C802.1 288.5 801.7 289.3 802.1 290.2 L819.6 283.9 L796.5 334.3 L747.1 311.2 L763.9 304.9 C763.5 303.7 763.9 300.9 761.8 297.6 C759.7 294.3 755.8 288.9 751.3 285 C746.8 281.1 738.6 276.8 734.5 274.5 C730.4 272.2 727.9 271.8 726.6 271.3Z" class="bk"/>
<path class="ln" d="M680 287.5 L726.6 271.5"/>
<path d="M779.7 412 L797.5 363.7 L850 384.7 L835.3 389.9 C835.4 393.4 835.6 403.9 835.7 410.9 C835.8 417.9 837.2 424.9 835.7 431.9 C834.2 438.9 831.2 446.2 826.9 452.9 C822.6 459.5 817.1 466.1 810.1 471.8 C803.1 477.5 791.4 484.9 784.9 486.9 C778.4 488.8 773.6 484.1 771.3 483.5 L787 459.2 C788.2 457.4 792.6 453.2 794.4 448.7 C796.2 444.1 797.7 438.5 797.9 431.9 C798.1 425.2 795.8 412.6 795.4 408.8Z" class="bk"/>
<path class="ln" d="M754.5 476.6 L787 459.2"/>
<path d="M831 521V396.6H1060.5" fill="none" stroke="#231f20" stroke-width="1.1"/>
<rect x="852.4" y="434" width="2.8" height="26.4" class="bk"/><path d="M891.9 434.4 L900.3 434.4 L897.5 461.3 L894.6 461.3Z" class="bk"/><path d="M933.4 435.7 L946.9 435.7 L941 461.3 L939.3 461.3Z" fill="#4a4a4a"/><path d="M973.3 435.7 L992.2 435.7 L983.4 461.3 L981.7 461.3Z" fill="#4a4a4a"/><path d="M937 435.7 L939.7 455M943.3 435.7 L940.8 455M977.9 435.7 L981.5 455M987.4 435.7 L983.6 455" fill="none" stroke="#fff" stroke-width="0.7"/><rect x="980.8" y="434" width="2.6" height="26" class="bk"/><rect x="1014.7" y="435" width="2.8" height="26" class="bk"/><rect x="1019.0" y="435" width="2.8" height="26" class="bk"/><rect x="1023.3" y="435" width="2.8" height="26" class="bk"/><rect x="1027.6" y="435" width="2.8" height="26" class="bk"/><rect x="1031.9" y="435" width="2.8" height="26" class="bk"/><rect x="1036.2" y="435" width="2.8" height="26" class="bk"/><path d="M1008.4 460.2 L1046.8 460.2 L1044.7 476 L1009.8 476Z" class="bk"/>
<text x="845.4" y="477" textLength="20.5" lengthAdjust="spacingAndGlyphs" style="font-family:'Liberation Sans',sans-serif;font-weight:bold;font-size:17.6px;fill:#231f20;stroke:#231f20;stroke-width:0.9px">0°</text>
<text x="880" y="477" textLength="32" lengthAdjust="spacingAndGlyphs" style="font-family:'Liberation Sans',sans-serif;font-weight:bold;font-size:17.6px;fill:#231f20;stroke:#231f20;stroke-width:0.9px">15°</text>
<text x="924" y="477" textLength="34" lengthAdjust="spacingAndGlyphs" style="font-family:'Liberation Sans',sans-serif;font-weight:bold;font-size:17.6px;fill:#231f20;stroke:#231f20;stroke-width:0.9px">25°</text>
<text x="966" y="477" textLength="35" lengthAdjust="spacingAndGlyphs" style="font-family:'Liberation Sans',sans-serif;font-weight:bold;font-size:17.6px;fill:#231f20;stroke:#231f20;stroke-width:0.9px">40°</text>
</g>
<g id="panelH">
<path d="M125 754.1H306.5" class="ln" style="stroke-width:1.5"/>
<path d="M125 809.8H316" class="lb"/>
<path d="M368.2 783.4L404.3 792.7H568.5" class="ln" style="stroke-width:1.5"/>
<path d="M369 796L406.5 805.3H568.5M406.9 805.3V842.2H568.5" class="lb"/>
<path d="M362.4 821.2L406.9 842.2L568.5 911.5" class="ln" style="stroke-width:1.5"/>
<path class="ln" d="M149.4 787.3 C150.1 783.4 151.2 771.1 153.6 763.8 C156 756.5 159.5 748.9 163.7 743.7 C167.9 738.5 173.8 734.7 178.8 732.7 C183.8 730.7 189.2 730.9 193.9 731.9 C198.7 732.9 204.3 735.5 207.3 738.6 C210.3 741.7 212 745.6 212 750.4 C212 755.2 209.5 761.9 207.3 767.2 C205.1 772.5 200.3 779.8 198.9 782.3 M152.2 786 C152.8 782.5 153.8 771.4 156.1 764.7 C158.3 758 161.9 750.6 165.7 745.7 C169.5 740.8 174.5 737.2 179.1 735.3 C183.7 733.4 188.6 733.6 193 734.4 C197.4 735.2 202.6 737.6 205.3 740.3 C208 743 209.4 746.1 209.3 750.4 C209.2 754.7 206.5 762.4 204.8 766.3 C203.1 770.2 199.9 772.6 198.9 773.9 M168.7 744 L170.4 765.2 M172.4 744 L173.4 765.6 M177.9 734.9 L179.1 766.5 M182.5 734.9 L183.1 767.1 M188 734.4 L186.8 767.6 M193.9 734.4 L191.9 768.4 M198.6 739 L195.9 769 M204 739 L200.3 769.6 M170.4 765.5 L198.9 769.7 M170.4 768.8 L198.9 772.5 L192.2 786 L169.9 780.9Z M136 795.7 L138.5 791.5 L169.5 781.4 L193.9 787 L198.6 784 L199.3 790.7 L178.8 805 L165.3 806.6 L140.2 800.8Z M136.8 797.1 L129.2 841.9 L130.1 844.8 L132.1 844.8 L141.8 801.8 M164.5 806.6 L160.8 833.5 L162 835.3 L164 834.8 L167.9 807.5 M173.7 806.6 L177.9 855.3 L179.6 857 L181.1 855.8 L179.1 805.5 M194.7 794.9 L204 836.9 L205.6 838 L207.7 836.7 L199.3 790.7"/>
<path d="M229.2 839.4 L175.4 879.7M228.3 840.2 L175.4 889.8M228.8 840.7 L188 889.8" fill="none" stroke="#555" stroke-width="1.1" stroke-dasharray="4 2.5"/>
<path d="M316.4 799.4 C317.3 805.1 319.3 822.3 321.5 833.6 C323.8 844.9 326.6 856.7 330 867.2 C333.3 877.7 337.4 888.8 341.5 896.4 C345.7 904 349.8 908.8 354.8 913.1 C359.8 917.4 363.1 920 371.4 922.3 C379.6 924.6 393.2 927.2 404.3 926.8 C415.4 926.4 426.9 922.3 437.9 920 C448.8 917.8 456.3 915.5 470 913.4 C483.7 911.2 503.6 910.1 520 907.4 C536.4 904.7 560.4 899.1 568.5 897.4" fill="none" stroke="#b5b5b5" stroke-width="2.6"/>
<path class="lt" d="M314.7 799.4 C315.5 805.1 317.5 822.3 319.7 833.6 C321.9 844.9 324.7 856.6 328.1 867.2 C331.5 877.8 335.7 889.5 339.9 897.4 C344.1 905.3 348.4 910.1 353.5 914.5 C358.6 918.9 362.3 921.6 370.8 923.9 C379.3 926.2 393.1 928.9 404.3 928.5 C415.5 928.1 426.9 924 437.9 921.7 C448.8 919.5 456.3 917.1 470 915 C483.7 912.9 503.6 911.8 520 909.2 C536.4 906.6 560.4 900.9 568.5 899.2"/>
<path class="lt" d="M318.2 799.4 C319.1 805.1 321.1 822.3 323.4 833.6 C325.7 844.9 328.5 856.9 331.8 867.2 C335.1 877.5 339.1 888 343.2 895.4 C347.2 902.8 351.3 907.5 356.1 911.7 C360.9 915.9 363.9 918.5 371.9 920.7 C379.9 922.9 393.3 925.5 404.3 925.1 C415.3 924.7 426.9 920.6 437.9 918.4 C448.8 916.2 456.3 913.8 470 911.7 C483.7 909.6 503.6 908.3 520 905.6 C536.4 902.9 560.4 897.3 568.5 895.6"/>
<path class="lt" d="M316.3 799.4 C317.2 805.1 319.3 822.3 321.6 833.6 C323.9 844.9 326.6 856.7 329.9 867.2 C333.2 877.7 339.6 891.5 341.5 896.4" style="stroke:#777"/>
<g id="womanH"><path class="ln" d="M325.4 665 C324.1 665.3 320 665.8 317.9 666.7 C315.8 667.6 314.1 668.7 312.8 670.4 C311.5 672.1 310.6 674.3 310.3 676.8 C310 679.3 310.5 682.6 310.8 685.2 C311.1 687.9 311.5 690.9 312 692.7 C312.5 694.5 313.4 695.1 314 696.1 C314.6 697.1 314.2 698 315.3 699 C316.4 700 318.8 701.6 320.4 702 C321.9 702.4 323.4 700.5 324.6 701.6 C325.9 702.7 328 706.4 327.9 708.7 C327.8 711 326.2 713.4 323.7 715.4 C321.2 717.4 315 719 312.8 720.5 C310.6 722 311 722.5 310.3 724.7 C309.6 726.9 309 731.2 308.6 733.9 C308.2 736.5 308.1 737.2 307.8 740.6 C307.5 744 307.3 750.1 306.6 754 C305.9 757.9 304.2 761.6 303.6 764.1 C303 766.6 302.9 768.4 302.7 769.2"/>
<path class="ln" d="M325.4 665 C326.5 665.1 330.1 665 332.1 665.5 C334.1 666 336 667.1 337.2 667.9 C338.4 668.7 338.4 670.3 339.2 670.1 C340 669.9 340.6 667 342.2 666.7 C343.8 666.4 347.2 667 348.9 668.4 C350.6 669.8 352.3 672.6 352.6 675.1 C352.9 677.6 351.8 681.2 350.6 683.5 C349.4 685.8 346.6 688.9 345.6 688.9 C344.6 688.9 345 685.5 344.4 683.5 C343.8 681.5 342.7 678.4 341.9 676.8 C341.1 675.2 339.8 674.3 339.4 673.8"/>
<path class="lt" d="M339.4 673.8 C339.6 675.1 339.8 679.5 340.5 681.8 C341.2 684.1 342.8 686.5 343.6 687.7 C344.5 688.9 345.3 688.7 345.6 688.9"/>
<path class="ln" d="M339.4 673.8 C339.5 675.1 340.2 678.8 340 681.8 C339.8 684.8 337.6 688.9 338 691.9 C338.4 694.9 339.5 697.7 342.2 699.5 C344.9 701.3 350.8 702.1 354 702.8 C357.2 703.5 359.3 702.6 361.5 703.7 C363.7 704.8 364.7 705 367.4 709.5 C370.1 714 374.6 724.2 377.5 730.5 C380.4 736.8 383.9 743.2 384.7 747.3 C385.5 751.4 387.1 751.9 382.5 754.9 C377.9 757.9 364 762.2 357.3 765 C350.6 767.8 346 769.9 342.2 771.7 C338.4 773.5 335.9 775.2 334.7 775.9"/>
<path class="ln" d="M356.5 721.3 C357.3 723.1 359.7 728.4 361.5 732.2 C363.3 736 368.1 740.8 367.4 744 C366.7 747.2 361.2 749 357.3 751.5 C353.4 754 348.4 757 343.9 759.1 C339.4 761.2 333.9 762.7 330.5 764.1 C327.1 765.5 324.8 766.9 323.7 767.5"/>
<path class="lt" d="M356.5 721.3 C356.8 723.4 358.5 728.9 358.5 733.9 C358.5 738.9 356.8 748.6 356.5 751.5"/>
<path class="lt" d="M318.7 747.3 C318.8 748.7 318.8 753 319 755.7 C319.2 758.4 319.8 762 320 763.3"/>
<path class="ln" d="M359 767.5 C360.1 769.2 364.1 773.9 365.7 777.5 C367.3 781.1 368.5 784.5 368.7 789.3 C368.9 794.1 367.9 800.5 366.6 806.1 C365.3 811.7 362.8 817 360.7 822.9 C358.6 828.8 355.6 837.1 354 841.4 C352.4 845.7 352 846.4 351.4 848.7 C350.8 851 349.9 852.3 350.6 855.4 C351.3 858.5 353.8 863 355.6 867.2 C357.4 871.4 360.5 878.4 361.5 880.6"/>
<path class="ln" d="M338 803.6 C337.3 807.1 335.1 818.3 333.8 824.6 C332.6 830.9 331.2 838 330.5 841.4 C329.8 844.8 329.5 842.7 329.6 845.3 C329.7 847.9 330 852.9 331.3 857.1 C332.6 861.3 335.4 866 337.2 870.5 C339 875 341.4 881.8 342.2 884"/>
<path class="ln" d="M366.6 882.3 C367 885.4 368.9 894.9 368.7 900.8 C368.5 906.7 365.6 912.8 365.7 917.5 C365.8 922.2 368.3 926.5 369.1 929.3 C369.9 932.1 371.2 932.6 370.4 934.3 C369.5 936 366.2 938.3 364 939.4 C361.8 940.5 359.5 940 357.3 941.1 C355.1 942.2 353.4 944.8 350.6 945.8 C347.8 946.8 343.4 947.1 340.5 946.9 C337.6 946.7 334.3 945.6 333 944.4 C331.7 943.1 330.7 941.3 332.5 939.4 C334.3 937.5 341.2 935.8 343.9 932.7 C346.6 929.6 348.5 925.1 348.9 920.9 C349.3 916.7 347.5 912 346.4 907.5 C345.3 903 343.2 897.4 342.2 894 C341.2 890.6 340.8 888.4 340.5 887.3"/>
<path class="ln" d="M340.5 887.3 C341.9 887.7 345.4 889.9 348.9 889.8 C352.4 889.7 358.6 887.8 361.5 886.5 C364.4 885.2 366.2 883.2 366.6 882.3 C367 881.4 364.9 881 364 880.9 C363.1 880.8 361.9 881.6 361.5 881.8"/>
<path class="ln" d="M338 891.5 C338.7 894.2 341.4 902.6 342.2 907.5 C343 912.4 343.6 917.5 343 920.9 C342.4 924.2 341.4 925.9 338.8 927.6 C336.2 929.3 329.9 930.1 327.1 931 C324.3 931.9 323.1 931.7 322.1 932.7 C321.1 933.7 320.4 935.8 321.2 936.9 C322 938 325.2 938.8 327.1 939.4 C329 940 331.6 940.1 332.5 940.2"/></g>
<g id="gunH"><path d="M306.4 777.6 L238.4 829" fill="none" stroke="#231f20" stroke-width="5.2"/>
<path d="M306.4 777.6 L285.4 789.8" fill="none" stroke="#231f20" stroke-width="8"/>
<ellipse cx="235.9" cy="831.8" rx="5" ry="4.4" fill="#231f20" transform="rotate(-37 235.9 831.8)"/>
<path d="M232.8 834.3 L227.5 840.2" fill="none" stroke="#231f20" stroke-width="2"/>
<path d="M301.1 771.7 C302.6 769.5 303.9 768.5 306.1 767.5 C308.3 766.5 312.1 765.8 314.5 765.8 C316.9 765.8 319.1 765.8 320.4 767.5 C321.7 769.2 320 774.1 322.1 775.9 C324.2 777.7 331.3 776.4 333 778.4 C334.7 780.4 333.1 785 332.5 787.6 C331.9 790.2 330.8 792.1 329.6 794.3 C328.4 796.5 327.2 800 325.4 800.7 C323.6 801.4 321.5 799.8 318.7 798.5 C315.9 797.2 311.4 794.5 308.6 792.7 C305.8 790.9 303.8 789.6 301.9 787.6 C299.9 785.6 297 783.5 296.9 780.9 C296.8 778.2 299.6 773.9 301.1 771.7Z" fill="#231f20" stroke="#231f20" stroke-width="1"/>
<path d="M312 767.5 C312.6 767 313.9 764.7 315.3 764.5 C316.7 764.3 319.4 765.3 320.4 766.1 C321.4 766.9 321.1 768.7 321.2 769.2" fill="none" stroke="#231f20" stroke-width="2.2"/>
<path d="M304.4 775.9 L312 773.4M306.1 780.1 L311.1 784.3M307.8 777.5 L309 787.6M320.4 780.9 L330.5 783.4M321.2 785.1 L328.8 786.8" fill="none" stroke="#fff" stroke-width="0.8"/>
<rect x="321.2" y="788.5" width="4.2" height="4.2" fill="#fff" transform="rotate(15 321.2 788.5)"/></g>
</g>
<g id="panelI">
<path class="lb" d="M617 786.9 C620.5 787.1 631 787.1 638 787.9 C645 788.7 645 789 659 791.5 C673 794 702.8 799.1 722 803 C741.2 806.9 760.4 810.9 774.4 815 C788.4 819.1 798.2 823.3 805.9 827.6 C813.6 831.9 817 837.7 820.6 840.8 C824.2 843.9 827.9 845.1 827.5 846.1 C827.1 847.1 820 846.6 818.5 846.7"/>
<path class="ln" d="M617 791.5 C627.5 792.9 659 796 680 799.9 C701 803.8 725.4 810 742.9 814.6 C760.4 819.2 774.4 823.8 784.9 827.6 C795.4 831.4 800.8 834.4 805.9 837.2 C811 840 813.8 843.2 815.4 844.4 M617 794.8 C627.5 796.2 659 799.4 680 803.2 C701 807.1 726.5 813.5 742.9 817.9 C759.3 822.2 772.6 827.4 778.6 829.3 M617 775.7 C618 775.5 620.8 773.6 623.3 774.3 C625.8 775 629.2 777.9 631.7 779.9 C634.2 781.9 637 785.3 638 786.4 M617 782 C618.2 781.5 622.2 779.1 624.3 779.3 C626.4 779.5 628.2 781.8 629.6 783.1 C631 784.4 632.2 786.3 632.7 786.9 M746.1 846.1 C747.3 845 750.4 841.4 753.4 839.3 C756.4 837.2 758.6 835.4 763.9 833.5 C769.1 831.6 778.6 828.8 784.9 827.8 C791.2 826.8 797.2 826.6 801.7 827.6 C806.2 828.6 810.5 832.5 812.2 833.5 M722 846.5 L818.5 846.7 M735.6 853.4 C736.1 854.2 736.8 856.7 738.7 858.2 C740.6 859.7 742.9 861.4 747.1 862.4 C751.3 863.4 754.1 864 763.9 864.1 C773.7 864.2 791.9 863.7 805.9 863.3 C819.9 862.9 840.9 862 847.9 861.8 M827.5 846.1 C829.1 846.6 834.5 848.1 837.4 849.2 C840.3 850.3 842.7 851.2 844.7 852.8 C846.7 854.4 848.7 856 849.2 858.7 C849.7 861.4 848.4 865.9 847.9 869.2 C847.4 872.5 847.2 875.1 846.2 878.6 C845.2 882.1 841.9 887.2 841.6 890.1 C841.4 893 843.5 894.4 844.7 896 C845.9 897.6 848.6 898.3 848.9 899.6 C849.1 900.9 846.7 903.1 846.2 903.8 M846.2 903.8 L741.9 919.5 M742.9 890.1 L818.5 892.2 M741.9 899.6 L847.9 899.6 M741.9 904.8 L845.8 903.6 M741.3 906.9 L795.4 909 L741.3 919.1 M707.3 914.3 L726.2 916.4 L741.3 916.4 M617 922 L638 918.5"/>
<rect x="822" y="879.6" width="15.5" height="15" rx="4" class="ln"/>
<path class="lt" d="M822.7 887 L837 887M831.1 880.1 L831.1 894.3"/>
<path class="lt" d="M837.4 881.7 L837.4 892.2"/>
<path class="ln" d="M774.9 853.8 C777.3 853.7 783.9 853.4 789.1 853.2 C794.3 853 797 852.7 805.9 852.6 C814.8 852.5 836.6 852.4 842.7 852.4" style="stroke-width:1.8"/>
<path d="M790.2 864.3 L814.3 863.9 L816.4 867.1 L816 878.6 L807 880.1 L795.4 872.3Z" fill="#fff" stroke="#231f20" stroke-width="1.6" stroke-linejoin="round"/>
<path d="M795.4 867.1 L813.3 866M797.5 869.6 L813.3 868.7M800 872.3 L813.3 871.7M803.4 875 L813.3 874.6M807 877.5 L813.3 877.1M799.6 866 L811.2 877.5M804.9 865.6 L814.3 874.4" fill="none" stroke="#231f20" stroke-width="1.2"/>
<path class="lb" d="M617 857 C618.8 854.5 622.2 846.3 627.5 842.3 C632.8 838.3 640.5 834.8 648.5 832.8 C656.5 830.8 667 830 675.8 830.5 C684.5 831 693.3 832.6 701 835.6 C708.7 838.6 716.4 843.3 722 848.2 C727.6 853.1 731.5 858.7 734.5 865 C737.5 871.3 738.6 878.9 739.8 885.9 C741 892.9 741.1 901.3 741.5 906.9 C741.9 912.5 741.8 917.4 741.9 919.5"/>
<circle cx="671.6" cy="893.3" r="55.6" class="lb" style="fill:#fff;stroke-width:1.6"/>
<path class="lt" d="M626.4 863.9 C629 861.5 634.7 852.8 642.2 849.2 C649.7 845.6 661.8 842.1 671.6 842.3 C681.4 842.5 693.1 845.6 701 850.3 C708.9 854.9 715.8 866.9 718.8 870.2"/>
<circle cx="671.6" cy="893.3" r="38.2" class="ln"/>
<circle cx="671.6" cy="893.3" r="36" class="lt"/>
<circle cx="671.6" cy="893.3" r="3.6" class="lt"/>
<circle cx="672.2" cy="884.5" r="2.9" class="lt"/>
<path class="lt" d="M678.6 881.7 L680.1 861.4 Q693.6 867.1 701.5 879.4 L681.8 884.4 Z"/>
<path class="lt" d="M681.6 879.0 L682.8 865.5 Q691.7 869.4 697.0 877.4 L684.0 880.9 Z"/>
<circle cx="680.1" cy="891.2" r="2.9" class="lt"/>
<path class="lt" d="M684.8 896.3 L704.6 891.6 Q703.3 906.1 694.1 917.4 L683.2 900.3 Z"/>
<path class="lt" d="M688.3 898.4 L701.5 895.4 Q700.5 905.0 694.6 912.6 L687.2 901.2 Z"/>
<circle cx="676.3" cy="900.8" r="2.9" class="lt"/>
<path class="lt" d="M672.8 906.7 L683.4 924.1 Q669.2 927.4 655.6 922.2 L668.6 906.5 Z"/>
<path class="lt" d="M671.9 910.8 L678.9 922.4 Q669.4 924.4 660.4 921.1 L668.9 910.6 Z"/>
<circle cx="665.9" cy="900.0" r="2.9" class="lt"/>
<path class="lt" d="M659.2 898.6 L646.0 914.1 Q638.4 901.6 639.2 887.0 L658.2 894.5 Z"/>
<path class="lt" d="M655.1 899.0 L646.2 909.2 Q641.3 900.8 641.7 891.2 L654.3 896.0 Z"/>
<circle cx="663.4" cy="890.0" r="2.9" class="lt"/>
<path class="lt" d="M662.7 883.1 L643.9 875.3 Q653.5 864.3 667.6 860.5 L666.3 880.9 Z"/>
<path class="lt" d="M661.1 879.3 L648.6 874.0 Q655.1 866.8 664.3 864.2 L663.7 877.7 Z"/>
<path class="lt" d="M707.3 938.4 C716.7 938.7 747.5 939.4 763.9 940.1 C780.3 940.8 794.9 941.9 805.9 942.6 C816.9 943.3 830.1 943.9 830.1 944.5 C830.1 945.1 820.4 945.8 805.9 946.4 C791.4 947 763.9 947.8 742.9 948.3 C721.9 948.8 701 949.2 680 949.5 C659 949.8 627.5 949.9 617 950"/>
<path class="lt" d="M617 934.2 L629.6 934.2"/>
<path d="M815.4 832.4 L778.6 858.7M816.4 833.5 L779.7 867.1M817.5 833.9 L787 865M818.5 834.5 L795.4 862.9M818.9 835.1 L804.9 858.7M816 833 L776.5 852.4" fill="none" stroke="#555" stroke-width="1.1" stroke-dasharray="3 2"/>
<path d="M896.5 793.8 C897 796.2 898.2 804 899.1 808.5 C900.1 813 900.5 814.6 902.5 821.1 C904.4 827.6 907.3 840.4 910.6 847.5 C914 854.7 918 860 922.8 864 C927.5 867.9 932.3 869.2 939.2 871.1 C946 873 954.7 873.9 964.1 875.3 C973.6 876.7 986.6 877.6 995.8 879.5 C1005 881.4 1013.6 884.5 1019.4 887 C1025 889.4 1027.8 891.8 1030 894.3 C1032.3 896.8 1032.3 900.7 1032.8 902" fill="none" stroke="#b5b5b5" stroke-width="2.2"/>
<path class="lt" d="M895.1 793.8 C895.5 796.2 896.8 804 897.8 808.5 C898.8 813 899.1 814.5 901 821.1 C902.9 827.8 905.9 841 909.4 848.4 C912.9 855.8 917.1 861.2 922 865.2 C926.9 869.2 931.7 870.7 938.7 872.6 C945.7 874.5 954.5 875.4 963.9 876.8 C973.3 878.2 986.3 879.1 995.4 881 C1004.5 882.9 1012.9 885.8 1018.5 888.3 C1024.1 890.8 1026.8 893.2 1029 895.7 C1031.2 898.2 1031.1 901.8 1031.5 903"/>
<path class="lt" d="M898 793.8 C898.4 796.2 899.5 804 900.5 808.5 C901.5 813 902 814.7 903.9 821.1 C905.8 827.5 908.6 839.8 911.9 846.7 C915.2 853.6 919 858.9 923.6 862.7 C928.2 866.5 932.8 867.8 939.6 869.6 C946.4 871.5 955 872.4 964.4 873.8 C973.8 875.2 987 876 996.3 878 C1005.6 880 1014.4 883.1 1020.2 885.6 C1026 888.1 1028.8 890.4 1031.1 892.9 C1033.4 895.4 1033.5 899.6 1034 900.9"/>
<path class="ln" d="M1004.4 906.1 C1004.6 904.7 1004.4 900.1 1005.9 897.7 C1007.4 895.3 1010.5 892.8 1013.3 891.5 C1016.1 890.2 1019.4 889.8 1022.7 890 C1026 890.2 1030.4 891.3 1033.2 892.9 C1036 894.5 1038.3 897.7 1039.5 899.8 C1040.7 901.9 1040.4 904.5 1040.6 905.5"/>
<ellipse cx="1022.3" cy="906.3" rx="18.2" ry="7.2" class="lb" style="fill:#fff;stroke-width:1.7"/>
<path class="ln" d="M1004.4 906.8 C1004.5 910 1005 920.1 1005.3 926.1 C1005.5 932.1 1004.8 939.2 1005.9 942.9 C1007 946.6 1009.5 946.9 1012.2 948.1 C1014.9 949.3 1018.8 950.2 1022.3 950.2 C1025.8 950.2 1030.4 949.3 1033.2 948.1 C1036 946.9 1038 946.6 1039.1 942.9 C1040.2 939.2 1039.6 932.1 1039.9 926.1 C1040.2 920.1 1040.7 910 1040.8 906.8"/>
<path class="lb" d="M1029.4 898.8 C1029.7 899.7 1030.9 902.2 1031.1 904 C1031.3 905.8 1030.8 908.4 1030.7 909.3"/>
<g transform="translate(903.1 684.3) scale(0.835) translate(-325.4 -665)"><use href="#womanH"/><use href="#gunH"/></g>
</g>
<g id="panelJ">
<path class="ln" d="M375.1 1108 C373.7 1108.2 369 1108.5 366.7 1109.4 C364.4 1110.3 362.9 1111.3 361.5 1113.6 C360.1 1115.9 358.6 1119.8 358.3 1123.1 C358 1126.4 359.3 1131.1 359.8 1133.6 C360.3 1136.1 360.5 1136.8 361.1 1138.2 C361.7 1139.6 362.7 1141 363.6 1142 C364.5 1143 365.5 1144 366.7 1144.5 C367.9 1145 369.3 1145.3 370.9 1145.3 C372.5 1145.3 375.1 1143.8 376.2 1144.5 C377.2 1145.2 377.7 1147.8 377.2 1149.3 C376.7 1150.8 374.6 1152.2 373 1153.5 C371.4 1154.8 368.8 1154.5 367.8 1157.1 C366.8 1159.7 367 1164.8 367.2 1169.3 C367.4 1173.8 368.5 1180.2 368.8 1184 C369.1 1187.8 370 1189.2 368.8 1192.4 C367.6 1195.6 364.5 1199.4 361.5 1202.9 C358.5 1206.4 353.8 1210.9 351 1213.4 C348.2 1215.9 345.8 1217.2 344.7 1218 M375.1 1108 C376.2 1108.1 379.5 1108.1 381.4 1108.8 C383.3 1109.5 384.9 1112.2 386.3 1112.2 C387.7 1112.2 388 1108.7 389.8 1108.8 C391.6 1108.9 395.6 1110.6 397.2 1112.6 C398.8 1114.6 399.9 1118.2 399.7 1121 C399.5 1123.8 397.5 1127.6 396.1 1129.4 C394.7 1131.2 392.4 1132.8 391.5 1131.9 C390.6 1131 391.5 1126.4 390.9 1124.1 C390.3 1121.8 388.2 1118.8 387.7 1117.8 M387.7 1117.8 C387.8 1119.7 388.3 1126.6 388.1 1129.4 C387.9 1132.2 385.8 1132.9 386.3 1134.6 C386.8 1136.2 388.2 1138.1 390.9 1139.3 C393.6 1140.5 399.4 1140.3 402.4 1141.6 C405.4 1142.9 406.9 1143.6 408.7 1147.2 C410.4 1150.8 411.8 1156.9 412.9 1163 C414 1169.1 415.4 1177.7 415.6 1184 C415.8 1190.3 414.8 1195.9 414 1200.8 C413.2 1205.7 411.5 1209.6 410.8 1213.4 C410.1 1217.2 411.2 1221.4 409.8 1223.8 C408.4 1226.2 404.1 1227.5 402.4 1227.8 C400.6 1228.1 400.2 1226.3 399.3 1225.5 C398.4 1224.7 397 1224 397.2 1222.8 C397.4 1221.6 399.2 1220 400.3 1218.6 C401.4 1217.2 403 1215.1 403.5 1214.4 M398.2 1158.8 C398.7 1160.9 400.3 1166.5 401.4 1171.4 C402.4 1176.3 404.1 1183 404.5 1188.2 C404.9 1193.5 404.1 1198.5 403.9 1202.9 C403.6 1207.3 403.1 1212.5 403 1214.4 M352 1221.3 C353.9 1219.7 359.9 1214.5 363.6 1211.7 C367.4 1208.9 372.7 1205.7 374.5 1204.5 M374.1 1205.4 C373.5 1207.4 371.2 1213.4 370.3 1217.5 C369.4 1221.6 368.7 1225.2 369 1230.1 C369.3 1235 370.3 1241 372 1246.9 C373.7 1252.9 377.4 1259.8 379.3 1265.8 C381.2 1271.8 382.4 1277.6 383.5 1282.6 C384.6 1287.6 385.6 1293.4 386 1295.6 M409.8 1225.9 C409.4 1228.7 409.1 1237.1 407.7 1242.7 C406.3 1248.3 403.1 1254.9 401.4 1259.5 C399.6 1264.1 397.4 1266.9 397.2 1270.4 C397 1273.9 399 1277 400.3 1280.5 C401.6 1284 404.1 1289.6 404.9 1291.4 M385 1230.1 C384.6 1231.5 383.1 1236 382.5 1238.5 C381.9 1241 381.6 1243.8 381.4 1244.8 M381.4 1267.9 C382 1270.4 383.6 1278 385 1282.6 C386.4 1287.2 389 1293.4 389.8 1295.6 M404.9 1292.1 C405.6 1291.9 408 1288 408.9 1291 C409.8 1294 409.9 1304 410 1309.9 C410.1 1315.9 409.1 1322.9 409.3 1326.7 C409.5 1330.5 411.5 1331.2 411.4 1333 C411.3 1334.8 410.4 1336.2 408.7 1337.2 C407 1338.2 403.7 1338.3 401.4 1339.3 C399.1 1340.3 397.9 1342.5 395.1 1343.1 C392.3 1343.7 387.1 1343.7 384.6 1343.1 C382.2 1342.5 380.9 1341 380.4 1339.7 C379.9 1338.4 379.6 1337.2 381.4 1335.5 C383.1 1333.8 388.8 1331.7 390.9 1329.2 C393 1326.7 393.6 1323.6 394 1320.4 C394.4 1317.2 393.7 1313.9 393 1309.9 C392.3 1305.9 390.3 1298.6 389.8 1296.3 M389.8 1296.3 C391 1296.5 394.6 1297.8 397.2 1297.7 C399.8 1297.6 403.7 1296.6 405.6 1295.6 C407.6 1294.5 408.3 1292.1 408.9 1291.4 M385 1295.6 C385.6 1298.7 388 1309.6 388.8 1314.1 C389.6 1318.6 390.2 1320.2 389.8 1322.5 C389.4 1324.8 389.1 1326.3 386.7 1327.7 C384.2 1329.1 377.5 1329.7 375.1 1330.9 C372.8 1332.1 371.7 1333.8 372.6 1335.1 C373.5 1336.4 379.1 1337.9 380.4 1338.5 M385 1295.6 L389.8 1296.3"/>
<path d="M339 1240.8 C339.9 1243.6 342.2 1252.2 344.6 1257.3 C347.1 1262.5 350.8 1268.6 353.5 1271.5 C356.2 1274.4 358 1275.5 360.9 1274.8 C363.8 1274.2 367.2 1272.1 370.9 1267.8 C374.5 1263.6 379.2 1255.4 382.6 1249.4 C386 1243.5 389 1236.5 391.3 1232.2 C393.6 1228 395.6 1225.3 396.5 1223.9" fill="none" stroke="#b5b5b5" stroke-width="2"/>
<path class="lt" d="M337.6 1241.1 C338.6 1243.9 340.8 1252.6 343.3 1257.9 C345.8 1263.2 349.8 1269.7 352.7 1272.7 C355.6 1275.8 357.7 1276.8 360.8 1276.2 C363.9 1275.6 367.7 1273.2 371.5 1268.9 C375.3 1264.6 380.1 1256.1 383.6 1250.1 C387.1 1244.1 390 1237 392.3 1232.7 C394.6 1228.5 396.5 1225.9 397.3 1224.6"/>
<path class="lt" d="M340.3 1240.5 C341.2 1243.2 343.7 1251.8 346 1256.8 C348.3 1261.8 351.8 1267.5 354.3 1270.3 C356.8 1273.1 358.4 1274.1 361 1273.5 C363.6 1272.9 366.8 1270.9 370.2 1266.8 C373.6 1262.7 378.2 1254.6 381.6 1248.8 C385 1243 388 1236 390.3 1231.7 C392.6 1227.5 394.8 1224.7 395.7 1223.3"/>
<path class="ln" d="M410.8 1218.8 C414.8 1218.9 425.7 1218.4 435 1219.4 C444.3 1220.4 457.8 1222.5 466.4 1224.7 C475 1226.9 481.7 1229.2 486.4 1232.7 C491.1 1236.2 492.8 1242.1 494.4 1245.9 C496 1249.7 495.6 1253.7 495.8 1255.3"/>
<path class="ln" d="M410.8 1221.7 C414.8 1221.8 425.9 1221.4 435 1222.4 C444.1 1223.4 457.4 1225.3 465.4 1227.6 C473.4 1229.9 479 1232.8 483.2 1236 C487.4 1239.2 488.9 1243.5 490.4 1246.9 C491.9 1250.3 491.7 1254.8 492 1256.4"/>
<path class="lt" d="M410.8 1220.3 C414.8 1220.4 425.8 1219.9 435 1220.9 C444.2 1221.9 457.7 1224 466 1226.2 C474.3 1228.4 480.5 1230.9 484.9 1234.3 C489.3 1237.7 491 1242.9 492.5 1246.5 C494 1250.1 493.7 1254.2 493.9 1255.8" style="stroke:#888;stroke-width:2"/>
<path class="ln" d="M458.7 1251.6 C459.1 1249.9 459.2 1244.6 461.2 1241.7 C463.2 1238.8 466.9 1236 470.6 1234.3 C474.3 1232.5 479 1231.2 483.2 1231.2 C487.4 1231.2 492.4 1232.5 495.8 1234.3 C499.2 1236 502.1 1238.8 503.8 1241.7 C505.6 1244.6 505.9 1249.9 506.3 1251.6"/>
<ellipse cx="482.3" cy="1252.6" rx="24" ry="8.8" class="lb" style="stroke-width:1.8"/>
<path class="ln" d="M458.3 1253.2 C458.5 1257.8 459.3 1271.9 459.7 1280.5 C460.1 1289.1 459.1 1299.7 460.6 1304.7 C462.1 1309.7 464.8 1309 468.5 1310.3 C472.2 1311.6 477.9 1312.8 482.8 1312.8 C487.7 1312.8 494.1 1311.6 497.9 1310.3 C501.6 1309 504 1309.7 505.3 1304.7 C506.6 1299.7 505.7 1289.1 505.9 1280.5 C506.1 1271.9 506.6 1257.8 506.7 1253.2"/>
<path class="lt" d="M460.6 1302.6 C461.9 1303.5 464.8 1306.5 468.5 1307.8 C472.2 1309.1 477.9 1310.3 482.8 1310.3 C487.7 1310.3 494.1 1309.1 497.9 1307.8 C501.6 1306.5 504.1 1303.5 505.3 1302.6"/>
<path d="M327.2 1230.4 L278.8 1264.4" fill="none" stroke="#231f20" stroke-width="4.6"/>
<path d="M329.9 1227.7 L316.4 1233.7" fill="none" stroke="#231f20" stroke-width="7"/>
<path d="M282.2 1263.3 L278.8 1266" fill="none" stroke="#231f20" stroke-width="6.4" stroke-linecap="round"/>
<path d="M327.2 1220.3 C328.3 1218.3 330.3 1218.1 332.5 1217.9 C334.7 1217.7 338.1 1218.7 340.6 1219 C343.1 1219.3 345.3 1218.7 347.3 1219.6 C349.3 1220.5 351.9 1222.2 352.7 1224.3 C353.5 1226.4 352.7 1229.9 352 1232.4 C351.3 1234.9 350 1237.5 348.7 1239.1 C347.4 1240.7 345.8 1242 344 1242.1 C342.2 1242.2 340 1241 337.9 1239.8 C335.8 1238.6 333.2 1236.8 331.2 1235.1 C329.2 1233.4 326.5 1232.2 325.8 1229.7 C325.1 1227.2 326.1 1222.3 327.2 1220.3Z" fill="#231f20" stroke="#231f20"/>
<path d="M333.2 1223.7 L335.2 1226.3M332.5 1228.4 L334.6 1231M340.6 1223 L346 1225.7M342.6 1221.6 L344 1227M343.3 1233.7 L345.3 1236.4" fill="none" stroke="#fff" stroke-width="0.8"/>
<path class="ln" d="M336.6 1217.6 C336.9 1217.3 337.5 1215.9 338.6 1215.6 C339.7 1215.3 342.1 1215.7 343.3 1216 C344.5 1216.3 345.6 1217.3 346 1217.6"/>
<path d="M277.1 1270.3 L213.1 1309.2M276.5 1270.9 L227.8 1318.6M277.3 1271.4 L245.6 1325.9M278.1 1271.8 L261.3 1330.1" fill="none" stroke="#444" stroke-width="1.1" stroke-dasharray="3 2"/>
<g fill="#000">
<circle cx="188.3" cy="1332.5" r="5.2"/><circle cx="183.2" cy="1335.8" r="5.2"/><circle cx="179.9" cy="1330.7" r="5.2"/><circle cx="185.0" cy="1327.4" r="5.2"/><circle cx="184.1" cy="1331.6" r="2.2" fill="#fff"/>
<circle cx="240.8" cy="1330.2" r="6.3"/><circle cx="234.6" cy="1334.2" r="6.3"/><circle cx="230.6" cy="1328.0" r="6.3"/><circle cx="236.8" cy="1324.0" r="6.3"/><circle cx="235.7" cy="1329.1" r="2.7" fill="#fff"/>
<circle cx="235.5" cy="1360.8" r="5.2"/><circle cx="230.4" cy="1364.1" r="5.2"/><circle cx="227.1" cy="1359.0" r="5.2"/><circle cx="232.2" cy="1355.7" r="5.2"/><circle cx="231.3" cy="1359.9" r="2.2" fill="#fff"/>
<circle cx="257.8" cy="1344.5" r="4.2"/><circle cx="253.7" cy="1347.2" r="4.2"/><circle cx="251.0" cy="1343.1" r="4.2"/><circle cx="255.1" cy="1340.4" r="4.2"/><circle cx="254.4" cy="1343.8" r="1.8" fill="#fff"/>
<circle cx="302.4" cy="1342.6" r="5.4"/><circle cx="297.2" cy="1346.0" r="5.4"/><circle cx="293.8" cy="1340.8" r="5.4"/><circle cx="299.0" cy="1337.4" r="5.4"/><circle cx="298.1" cy="1341.7" r="2.3" fill="#fff"/>
<circle cx="297.7" cy="1368.0" r="4.2"/><circle cx="293.6" cy="1370.7" r="4.2"/><circle cx="290.9" cy="1366.6" r="4.2"/><circle cx="295.0" cy="1363.9" r="4.2"/><circle cx="294.3" cy="1367.3" r="1.8" fill="#fff"/>
<ellipse cx="180.6" cy="1371.1" rx="4.0" ry="1.5" transform="rotate(9 172.8 1371.1)"/><ellipse cx="180.6" cy="1371.1" rx="4.0" ry="1.5" transform="rotate(45 172.8 1371.1)"/><ellipse cx="180.6" cy="1371.1" rx="4.0" ry="1.5" transform="rotate(81 172.8 1371.1)"/><ellipse cx="180.6" cy="1371.1" rx="4.0" ry="1.5" transform="rotate(117 172.8 1371.1)"/><ellipse cx="180.6" cy="1371.1" rx="4.0" ry="1.5" transform="rotate(153 172.8 1371.1)"/><ellipse cx="180.6" cy="1371.1" rx="4.0" ry="1.5" transform="rotate(189 172.8 1371.1)"/><ellipse cx="180.6" cy="1371.1" rx="4.0" ry="1.5" transform="rotate(225 172.8 1371.1)"/><ellipse cx="180.6" cy="1371.1" rx="4.0" ry="1.5" transform="rotate(261 172.8 1371.1)"/><ellipse cx="180.6" cy="1371.1" rx="4.0" ry="1.5" transform="rotate(297 172.8 1371.1)"/><ellipse cx="180.6" cy="1371.1" rx="4.0" ry="1.5" transform="rotate(333 172.8 1371.1)"/><circle cx="172.8" cy="1371.1" r="2.6"/>
<ellipse cx="269.3" cy="1369.0" rx="4.1" ry="1.6" transform="rotate(9 261.3 1369.0)"/><ellipse cx="269.3" cy="1369.0" rx="4.1" ry="1.6" transform="rotate(45 261.3 1369.0)"/><ellipse cx="269.3" cy="1369.0" rx="4.1" ry="1.6" transform="rotate(81 261.3 1369.0)"/><ellipse cx="269.3" cy="1369.0" rx="4.1" ry="1.6" transform="rotate(117 261.3 1369.0)"/><ellipse cx="269.3" cy="1369.0" rx="4.1" ry="1.6" transform="rotate(153 261.3 1369.0)"/><ellipse cx="269.3" cy="1369.0" rx="4.1" ry="1.6" transform="rotate(189 261.3 1369.0)"/><ellipse cx="269.3" cy="1369.0" rx="4.1" ry="1.6" transform="rotate(225 261.3 1369.0)"/><ellipse cx="269.3" cy="1369.0" rx="4.1" ry="1.6" transform="rotate(261 261.3 1369.0)"/><ellipse cx="269.3" cy="1369.0" rx="4.1" ry="1.6" transform="rotate(297 261.3 1369.0)"/><ellipse cx="269.3" cy="1369.0" rx="4.1" ry="1.6" transform="rotate(333 261.3 1369.0)"/><circle cx="261.3" cy="1369.0" r="2.7"/>
<ellipse cx="326.0" cy="1375.9" rx="3.6" ry="1.4" transform="rotate(9 319.1 1375.9)"/><ellipse cx="326.0" cy="1375.9" rx="3.6" ry="1.4" transform="rotate(45 319.1 1375.9)"/><ellipse cx="326.0" cy="1375.9" rx="3.6" ry="1.4" transform="rotate(81 319.1 1375.9)"/><ellipse cx="326.0" cy="1375.9" rx="3.6" ry="1.4" transform="rotate(117 319.1 1375.9)"/><ellipse cx="326.0" cy="1375.9" rx="3.6" ry="1.4" transform="rotate(153 319.1 1375.9)"/><ellipse cx="326.0" cy="1375.9" rx="3.6" ry="1.4" transform="rotate(189 319.1 1375.9)"/><ellipse cx="326.0" cy="1375.9" rx="3.6" ry="1.4" transform="rotate(225 319.1 1375.9)"/><ellipse cx="326.0" cy="1375.9" rx="3.6" ry="1.4" transform="rotate(261 319.1 1375.9)"/><ellipse cx="326.0" cy="1375.9" rx="3.6" ry="1.4" transform="rotate(297 319.1 1375.9)"/><ellipse cx="326.0" cy="1375.9" rx="3.6" ry="1.4" transform="rotate(333 319.1 1375.9)"/><circle cx="319.1" cy="1375.9" r="2.3"/>
<path d="M205.7 1403.2 C205.8 1399.1 205.4 1385.7 206.3 1378.4 C207.2 1371.1 208.8 1364.8 211 1359.5 C213.2 1354.2 216.2 1350.7 219.4 1346.9 C222.6 1343.1 228.5 1338.6 230.3 1336.9 M210.3 1362.7 C209.5 1360.8 207.5 1354.2 205.7 1351.1 C203.9 1347.9 202 1346.1 199.4 1343.8 C196.8 1341.5 191.6 1338.5 190 1337.5 M206.8 1375.3 C208.2 1374.2 212.3 1370.6 215.2 1369 C218.1 1367.4 222.5 1366.3 224 1365.8 M271.8 1403.2 C272 1399.1 271.8 1385.3 272.9 1378.4 C273.9 1371.5 275.5 1366.4 278.1 1361.6 C280.7 1356.8 286.9 1351.5 288.6 1349.5 M275.6 1367.9 C275 1366 273.5 1359.4 271.8 1356.4 C270.1 1353.4 267.6 1351.7 265.5 1350.1 C263.4 1348.5 260.2 1347.4 259.2 1346.9 M273.5 1378.4 C274.6 1377.6 277.8 1374.8 280.2 1373.8 C282.6 1372.8 286.4 1372.7 287.6 1372.5 M179.5 1403.2 C179.3 1400.8 179.3 1393 178.4 1388.9 C177.5 1384.8 174.9 1380.2 174.2 1378.4 M254 1403.2 C254.2 1400.8 254.2 1393 255 1388.9 C255.8 1384.8 258.2 1380.2 258.8 1378.4 M313.8 1403.2 C314 1401.5 314.2 1396.2 314.9 1393.1 C315.6 1390 317.5 1386.1 318 1384.7 M228.8 1403.2 C228.6 1401.5 228.5 1395.8 227.8 1393.1 C227.1 1390.4 225.1 1387.8 224.6 1386.8M228.2 1394.2 L232 1387.9 M291.8 1403.2 C291.7 1401.9 291.6 1397.4 291.1 1395.2 C290.6 1393 289 1390.9 288.6 1390M291.4 1396.3 L294.9 1391" fill="none" stroke="#000" stroke-width="1.6" stroke-linecap="round"/>
<path d="M0 0 C3.7 -4.4 10.0 -4.4 12.5 0 C10.0 4.4 3.7 4.4 0 0Z" transform="translate(204.2 1342.7) rotate(-100)"/>
<path d="M0 0 C3.7 -4.4 10.0 -4.4 12.5 0 C10.0 4.4 3.7 4.4 0 0Z" transform="translate(214.7 1342.7) rotate(-85)"/>
<path d="M0 0 C3.7 -4.1 10.0 -4.1 12.5 0 C10.0 4.1 3.7 4.1 0 0Z" transform="translate(199.4 1348.0) rotate(-170)"/>
<path d="M0 0 C3.7 -4.1 10.0 -4.1 12.5 0 C10.0 4.1 3.7 4.1 0 0Z" transform="translate(221.5 1344.8) rotate(15)"/>
<path d="M0 0 C3.7 -4.6 10.0 -4.6 12.5 0 C10.0 4.6 3.7 4.6 0 0Z" transform="translate(207.8 1365.8) rotate(-140)"/>
<path d="M0 0 C3.1 -3.3 8.2 -3.3 10.2 0 C8.2 3.3 3.1 3.3 0 0Z" transform="translate(216.2 1365.8) rotate(-100)"/>
<path d="M0 0 C2.7 -2.7 7.3 -2.7 9.1 0 C7.3 2.7 2.7 2.7 0 0Z" transform="translate(219.4 1367.9) rotate(30)"/>
<path d="M0 0 C3.1 -3.5 8.2 -3.5 10.2 0 C8.2 3.5 3.1 3.5 0 0Z" transform="translate(270.4 1353.2) rotate(-95)"/>
<path d="M0 0 C3.1 -3.5 8.2 -3.5 10.2 0 C8.2 3.5 3.1 3.5 0 0Z" transform="translate(280.2 1353.2) rotate(-85)"/>
<path d="M0 0 C3.1 -3.3 8.2 -3.3 10.2 0 C8.2 3.3 3.1 3.3 0 0Z" transform="translate(266.6 1356.4) rotate(-175)"/>
<path d="M0 0 C3.1 -3.3 8.2 -3.3 10.2 0 C8.2 3.3 3.1 3.3 0 0Z" transform="translate(286.5 1356.4) rotate(5)"/>
<path d="M0 0 C3.1 -4.1 8.2 -4.1 10.2 0 C8.2 4.1 3.1 4.1 0 0Z" transform="translate(273.9 1372.1) rotate(-130)"/>
<path d="M0 0 C2.4 -2.7 6.3 -2.7 7.9 0 C6.3 2.7 2.4 2.7 0 0Z" transform="translate(281.3 1374.2) rotate(-90)"/>
<path d="M0 0 C2.4 -2.5 6.3 -2.5 7.9 0 C6.3 2.5 2.4 2.5 0 0Z" transform="translate(284.4 1375.3) rotate(35)"/>
<path d="M0 0 C4.1 -3.8 10.9 -3.8 13.6 0 C10.9 3.8 4.1 3.8 0 0Z" transform="translate(178.4 1390.0) rotate(-165)"/>
<path d="M0 0 C3.7 -3.8 10.0 -3.8 12.5 0 C10.0 3.8 3.7 3.8 0 0Z" transform="translate(179.9 1388.9) rotate(-60)"/>
<path d="M0 0 C4.1 -3.8 10.9 -3.8 13.6 0 C10.9 3.8 4.1 3.8 0 0Z" transform="translate(254.0 1390.0) rotate(-120)"/>
<path d="M0 0 C4.1 -3.5 10.9 -3.5 13.6 0 C10.9 3.5 4.1 3.5 0 0Z" transform="translate(255.5 1390.0) rotate(-15)"/>
<path d="M0 0 C3.4 -3.3 9.1 -3.3 11.3 0 C9.1 3.3 3.4 3.3 0 0Z" transform="translate(314.4 1392.1) rotate(-125)"/>
<path d="M0 0 C3.4 -3.0 9.1 -3.0 11.3 0 C9.1 3.0 3.4 3.0 0 0Z" transform="translate(315.3 1392.7) rotate(-15)"/>
<path d="M0 0 C3.4 -3.0 9.1 -3.0 11.3 0 C9.1 3.0 3.4 3.0 0 0Z" transform="translate(225.7 1387.9) rotate(-160)"/>
<path d="M0 0 C3.1 -3.0 8.2 -3.0 10.2 0 C8.2 3.0 3.1 3.0 0 0Z" transform="translate(226.7 1385.8) rotate(-110)"/>
<path d="M0 0 C3.1 -3.0 8.2 -3.0 10.2 0 C8.2 3.0 3.1 3.0 0 0Z" transform="translate(232.0 1387.9) rotate(-75)"/>
<path d="M0 0 C3.1 -2.7 8.2 -2.7 10.2 0 C8.2 2.7 3.1 2.7 0 0Z" transform="translate(232.0 1388.9) rotate(-25)"/>
<path d="M0 0 C3.1 -2.7 8.2 -2.7 10.2 0 C8.2 2.7 3.1 2.7 0 0Z" transform="translate(225.7 1391.0) rotate(170)"/>
<path d="M0 0 C2.7 -2.5 7.3 -2.5 9.1 0 C7.3 2.5 2.7 2.5 0 0Z" transform="translate(232.0 1390.0) rotate(10)"/>
<path d="M0 0 C3.1 -2.7 8.2 -2.7 10.2 0 C8.2 2.7 3.1 2.7 0 0Z" transform="translate(289.0 1390.0) rotate(-165)"/>
<path d="M0 0 C2.7 -2.7 7.3 -2.7 9.1 0 C7.3 2.7 2.7 2.7 0 0Z" transform="translate(289.7 1388.5) rotate(-115)"/>
<path d="M0 0 C2.7 -2.7 7.3 -2.7 9.1 0 C7.3 2.7 2.7 2.7 0 0Z" transform="translate(294.9 1390.0) rotate(-70)"/>
<path d="M0 0 C2.7 -2.5 7.3 -2.5 9.1 0 C7.3 2.5 2.7 2.5 0 0Z" transform="translate(294.9 1391.4) rotate(-20)"/>
<path d="M0 0 C2.7 -2.5 7.3 -2.5 9.1 0 C7.3 2.5 2.7 2.5 0 0Z" transform="translate(289.0 1392.7) rotate(165)"/>
<ellipse cx="179.5" cy="1405" rx="10" ry="4.4"/>
<ellipse cx="205.7" cy="1405" rx="10" ry="4.4"/>
<ellipse cx="228.8" cy="1405" rx="10" ry="4.4"/>
<ellipse cx="254.0" cy="1405" rx="10" ry="4.4"/>
<ellipse cx="271.8" cy="1405" rx="10" ry="4.4"/>
<ellipse cx="291.8" cy="1405" rx="10" ry="4.4"/>
<ellipse cx="313.8" cy="1405" rx="10" ry="4.4"/>
</g>
</g>
<g id="panelK" clip-path="url(#clipK)">
<path d="M734.2 1248.2 L795.9 1221.6" fill="none" stroke="#231f20" stroke-width="2.6"/>
<path d="M685.3 1267.7 C685.1 1264.6 683.8 1254.8 684.3 1249.3 C684.8 1243.8 686.4 1238.6 688.5 1234.6 C690.6 1230.6 693.4 1227.1 696.9 1225.1 C700.4 1223.1 705.3 1221.7 709.5 1222.6 C713.7 1223.5 718.6 1227 722.1 1230.4 C725.6 1233.8 728.3 1239.3 730.4 1243 C732.5 1246.7 733.9 1250.8 734.6 1252.4 L726.7 1253.9 C726.3 1252.8 725.7 1250 724.2 1247.2 C722.7 1244.4 720.3 1239.9 717.9 1237.1 C715.5 1234.3 712.2 1231.4 709.9 1230.4 C707.6 1229.4 706.2 1229.9 704.2 1231 C702.2 1232.1 699.5 1234 697.9 1237.1 C696.2 1240.1 694.8 1244.5 694.3 1249.3 C693.8 1254 694.7 1262.9 694.8 1265.6 Z" class="bk"/>
<path d="M715.8 1252 L735.9 1259.8 L735.5 1248.2 L728.4 1243Z" class="bk"/>
<path class="ln" d=""/>
<path class="ln" d="M735.1 1252.4 L793.4 1227.2 M736.3 1258.1 L761.9 1246.8 M737.8 1265 L759.8 1254.5 M739.3 1272.4 L753.5 1265.6 M740.9 1280.8 L750.4 1276.1 M742 1288.1 L749.3 1284.5 M794.9 1218.2 C795.8 1217.9 798.8 1216.2 800.4 1216.6 C802 1217 803.4 1218.5 804.8 1220.4 C806.2 1222.3 807.5 1225.6 808.6 1228 C809.7 1230.4 810.8 1233.5 811.3 1234.6 M794.9 1218.2 C795.2 1219.1 795.6 1221.5 796.6 1223.7 C797.6 1225.9 799.7 1229.7 800.9 1231.3 C802.1 1232.9 803.2 1233.1 803.7 1233.5 M797.7 1217.7 C798.4 1217.8 800.5 1216.9 802 1218.4 C803.5 1219.9 805.6 1224.3 806.9 1226.9 C808.2 1229.5 809.2 1232.8 809.7 1234 M811.3 1220.4 C811.8 1220.2 813.3 1218.8 814.6 1219.3 C815.9 1219.8 817.5 1221.7 818.9 1223.7 C820.3 1225.7 821.7 1228.8 822.8 1231.3 C823.9 1233.8 825 1237.6 825.5 1238.9 M811.3 1220.4 C811.5 1221.3 811.5 1223.6 812.4 1225.8 C813.3 1228 815.3 1231.5 816.8 1233.5 C818.2 1235.5 820.4 1237.1 821.1 1237.8 M808 1223.7 C808.3 1223.4 809.2 1222.4 809.7 1222 C810.2 1221.6 811 1221.6 811.3 1221.5 M805.8 1223.7 L810.2 1223.1 M808 1229.1 L812.4 1228 M817.8 1222 L829.9 1217.1 M825.5 1239.5 L835.3 1242.2 M828.2 1212.7 L836.4 1209.5 L840.8 1214.9 L839.7 1218.2 L832 1219.8 L828.2 1212.7 M829.9 1214.9 L836.4 1212.5 L839.5 1216.6 M840.8 1216 C841.7 1218 844.9 1224.4 846.2 1228 C847.5 1231.6 848.2 1235.6 848.4 1237.8 C848.6 1240 848.6 1240.1 847.3 1241.1 C846 1242.1 842.8 1243.7 840.8 1243.9 C838.8 1244.1 836.2 1242.5 835.3 1242.2 M838.6 1241.1 L846.2 1237.8 L847.9 1240.6 M841.3 1216 L851.1 1212.7 M848.6 1231.3 L856.6 1228 M850.6 1212.7 C851.1 1214 852.9 1217.9 853.9 1220.4 C854.9 1223 856.1 1226.7 856.6 1228 M856.6 1211.7 L870.2 1206.2 M861.5 1226.4 L871.3 1222.3"/>
<path d="M852.2 1211.9 C852.2 1210.3 854.1 1210 855.2 1210.8 C856.3 1211.6 857.8 1214.1 858.8 1216.6 C859.8 1219.1 861.3 1224 861.3 1225.8 C861.3 1227.6 859.8 1228.5 858.8 1227.6 C857.8 1226.7 856.6 1223 855.5 1220.4 C854.4 1217.8 852.2 1213.5 852.2 1211.9Z" fill="#fff" stroke="#231f20" stroke-width="2.2" stroke-linejoin="round"/>
<path d="M857.7 1209.7 C857.6 1208.1 859.5 1207.8 860.6 1208.6 C861.7 1209.4 863.2 1211.9 864.2 1214.4 C865.2 1216.9 866.7 1221.9 866.7 1223.7 C866.7 1225.5 865.2 1226.3 864.2 1225.4 C863.2 1224.5 862.1 1220.8 861 1218.2 C859.9 1215.6 857.8 1211.3 857.7 1209.7Z" fill="#fff" stroke="#231f20" stroke-width="2.2" stroke-linejoin="round"/>
<path d="M863.1 1207.5 C863.1 1205.9 865 1205.6 866.1 1206.4 C867.2 1207.2 868.7 1209.7 869.7 1212.2 C870.7 1214.7 872.2 1219.7 872.2 1221.5 C872.2 1223.3 870.7 1224.1 869.7 1223.2 C868.7 1222.3 867.5 1218.6 866.4 1216 C865.3 1213.4 863.1 1209.1 863.1 1207.5Z" fill="#fff" stroke="#231f20" stroke-width="2.2" stroke-linejoin="round"/>
<path d="M624.4 1292.3 L710.5 1260.8 L729.4 1300.7 L647.5 1341.6Z" class="wh"/>
<path class="ln" d="M624.4 1292.3 L710.5 1260.8M647.5 1341.6 L729.4 1300.7"/>
<ellipse cx="636.0" cy="1316.9" rx="7" ry="25.6" class="lw" style="stroke-width:1.6" transform="rotate(-24 636.0 1316.9)"/>
<ellipse cx="636.4" cy="1318.5" rx="4" ry="17" fill="#fff" stroke="#231f20" stroke-width="2.6" transform="rotate(-24 636.4 1318.5)"/>
<ellipse cx="636.9" cy="1319.5" rx="1.6" ry="9" fill="#231f20" transform="rotate(-24 636.9 1319.5)"/>
<path d="M710.5 1260.8 C709.1 1256.2 711.8 1257.2 715.8 1257.7 C719.8 1258.2 730.3 1258.8 734.6 1264 C738.9 1269.2 742.1 1283.2 741.4 1289.2 C740.7 1295.2 733.3 1300.8 730.4 1300.1 C727.5 1299.4 727.5 1291.5 724.2 1285 C720.9 1278.5 711.9 1265.3 710.5 1260.8Z" class="lw"/>
<path class="ln" d="M710.5 1260.8 C712.1 1263.8 716.9 1272 720 1278.7 C723.1 1285.4 727.8 1297 729.4 1300.7M713.7 1259.3 C715.3 1262.2 720 1270.5 723.1 1277 C726.2 1283.5 730.9 1295 732.5 1298.6"/>
<path class="ln" d="M728.4 1282.4 L735.1 1280.3 L737.2 1287.5 L730.4 1289.6Z"/>
<path class="lt" d="M730.9 1283.9 L734.2 1282.9 L735.1 1286.2 L731.7 1287.3Z"/>
<path d="M747.2 1297.5 C746.2 1287.7 748.2 1280.1 751.4 1272.4 C754.5 1264.7 760.1 1257 766.1 1251.4 C772.1 1245.8 780.8 1241.4 787.1 1238.8 C793.4 1236.2 797.6 1235.9 803.9 1235.6 C810.2 1235.2 817.9 1235.5 824.9 1236.7 C831.9 1237.9 839.2 1239.5 845.9 1243 C852.6 1246.5 858 1243.7 865 1257.7 C872 1271.7 891.1 1306.3 887.9 1326.9 C884.7 1347.5 859.9 1373.8 845.9 1381.5 C831.9 1389.2 815.8 1377.6 803.9 1373.1 C792 1368.5 782.2 1361.2 774.5 1354.2 C766.8 1347.2 762.2 1340.5 757.7 1331.1 C753.2 1321.6 748.2 1307.3 747.2 1297.5Z" class="wh"/>
<path class="ln" d="M771.4 1324.8 C769.1 1322.3 761.4 1314.3 757.7 1310.1 C754 1305.9 751 1303.1 749.3 1299.6 C747.6 1296.1 747.4 1293.7 747.7 1289.2 C748.1 1284.7 748.3 1278.7 751.4 1272.4 C754.5 1266.1 760.1 1257 766.1 1251.4 C772.1 1245.8 780.8 1241.4 787.1 1238.8 C793.4 1236.2 797.6 1235.9 803.9 1235.6 C810.2 1235.3 817.9 1235.9 824.9 1237.1 C831.9 1238.3 839.2 1239.5 845.9 1243 C852.6 1246.5 861.8 1255.6 865 1258.1"/>
<path class="ln" d="M842.3 1242.5 C845.8 1245.3 857.7 1253.7 863.3 1259.3 C868.9 1264.9 872.4 1270.5 875.9 1276.1 C879.4 1281.7 882.1 1286.6 884.3 1292.9 C886.5 1299.2 888.1 1310.4 888.9 1313.9"/>
<path class="ln" d="M749.3 1300.7 C749.6 1303 750 1309.2 751.4 1314.3 C752.8 1319.4 753.9 1324.4 757.7 1331.1 C761.6 1337.8 770.3 1349.3 774.5 1354.6 C778.7 1359.9 781.5 1361.6 782.9 1363"/>
<path class="lt" d="M751.4 1297.5 C753.1 1300 758.4 1307.3 761.9 1312.2 C765.4 1317.1 770.6 1324.5 772.4 1326.9"/>
<circle cx="830.1" cy="1321.6" r="59" class="lw" style="stroke-width:1.5"/>
<circle cx="831.6" cy="1321.6" r="54.6" class="ln"/>
<path d="M701.1 1311.2 C702.5 1313.1 706.4 1319.7 709.5 1322.7 C712.6 1325.8 716.2 1329.1 720 1329.5 C723.8 1329.9 728.9 1328.5 732.5 1325.3 C736.1 1322.1 740.1 1315.4 741.4 1310.1 C742.7 1304.8 740.6 1296.2 740.5 1293.4 L734.2 1295 C734.1 1297.1 734.4 1303.8 733.4 1307.6 C732.4 1311.4 730.3 1315.5 728.4 1317.7 C726.5 1319.9 724.3 1320.8 722.1 1320.6 C719.9 1320.4 717.5 1318.6 715.3 1316.4 C713.1 1314.2 709.9 1309.1 708.8 1307.6 Z" class="bk"/>
<path d="M875.1 1176.2 L890.2 1166.1 L965.8 1135.9 L982.5 1134.2 L996 1188 L974.2 1195.5 L893.5 1225.2 L878.4 1219.9 L871.7 1201.4Z" class="wh"/>
<path class="ln" d="M875.1 1176.5 C877.6 1174.8 875.1 1172.9 890.2 1166.1 C905.3 1159.3 951 1141 965.8 1135.9 C980.6 1130.8 977 1135.6 979.2 1135.6 M893.5 1225.2 C907 1220.2 958 1201.2 974.2 1195 C990.4 1188.8 988.1 1189.4 990.9 1188.3 M909 1211.5 L976.2 1183.3 M907.8 1219.9 L977.5 1191.3 M963.2 1129.2 L980.9 1122.8 L990.1 1137.6 L994.3 1188 M963.2 1129.2 L964.1 1136.2 M980.9 1122.8 L989.3 1119.4 M963.2 1129.2 L972.5 1125.5 M975.8 1135.9 L976.7 1144.3 M990.1 1137.6 L1004.4 1132.2 L1016.1 1134.2 M1004.4 1147.7 C1005.8 1148.8 1010.7 1149.9 1012.8 1154.4 C1014.9 1158.9 1016.7 1167.8 1017 1174.5 C1017.3 1181.2 1016.3 1189.9 1014.5 1194.7 C1012.7 1199.5 1009.8 1201.4 1006.1 1203.1 C1002.5 1204.8 996.5 1205.6 992.6 1204.8 C988.7 1204 984.2 1199.5 982.5 1198.4 M1005.2 1148 C1004.2 1150.2 1000.8 1156.4 999.3 1161.1 C997.8 1165.8 996.5 1171.2 996.3 1176.2 C996.1 1181.2 998.3 1187.4 998 1191.3 C997.7 1195.2 996.3 1198.3 994.3 1199.7 C992.3 1201.1 987.3 1199.7 985.9 1199.7 M1005.2 1148 C1006.8 1148 1012.2 1147.2 1014.5 1148 C1016.8 1148.8 1018.3 1150.5 1018.7 1152.7 C1019.1 1154.9 1017.3 1159.7 1017 1161.1 M990.1 1137.6 C991.4 1138.3 995.3 1140.1 997.7 1141.8 C1000.1 1143.5 1003.3 1146.7 1004.4 1147.7 M1016.1 1146 L1064.8 1127.8 M1017 1174.5 L1039.6 1166.5 M1014.8 1194.7 L1064.8 1173.2 M1018.7 1204.8 L1064.8 1184.9 M980.9 1112.7 C983.4 1110.4 991.8 1106.3 997.7 1105.7 C1003.6 1105.1 1011.3 1106.8 1016.1 1109 C1020.9 1111.2 1027.3 1116.2 1026.5 1119.1 C1025.7 1122 1018.7 1126.2 1011.4 1126.2 C1004.1 1126.2 987.6 1121.7 982.5 1119.4 C977.4 1117.2 978.4 1115 980.9 1112.7Z M982.5 1116.6 C987.3 1117.6 1004 1122.9 1011.1 1122.8 C1018.2 1122.7 1023 1117.2 1025.4 1116.1 M1016.1 1109 C1016.2 1108.3 1014.8 1105.8 1017 1104.8 C1019.2 1103.8 1025.8 1102.8 1029.6 1103.2 C1033.4 1103.6 1037.8 1105.6 1039.6 1107.4 C1041.4 1109.2 1042.7 1112.1 1040.5 1114.1 C1038.3 1116 1028.8 1118.3 1026.5 1119.1 M1040.5 1109 C1041.9 1109.8 1047.3 1110.7 1048.9 1114.1 C1050.5 1117.5 1050.9 1125.3 1050.1 1129.2 C1049.2 1133.1 1044.8 1136.2 1043.8 1137.6 M1011.1 1126.2 L1012.8 1132.2 M1026.5 1119.1 L1032.9 1129.2 M1049.7 1114.1 L1064.8 1107.4 M976.7 1198 C976.8 1200.5 975.1 1208.7 977.2 1213.2 C979.3 1217.7 984.8 1222.2 989.3 1224.9 C993.8 1227.6 999.9 1229.4 1004.4 1229.4 C1008.9 1229.5 1013.3 1226.7 1016.1 1225.2 C1018.9 1223.7 1020.4 1223.6 1021.2 1220.2 C1022.1 1216.8 1021.2 1207.6 1021.2 1205.1 M1007.7 1205.1 L1007.7 1228.3 M1012.8 1205.1 L1012.8 1226.6 M990.9 1203.1 C991.1 1205 991.7 1211.2 992.3 1214.8 C992.9 1218.4 994 1223.2 994.3 1224.9 M989.3 1224.9 L1032.9 1271.9 L1064.8 1286.7 M1004.4 1229.4 L1027 1248.8 M992.6 1231.6 L1034.6 1277 L1064.8 1290.4 M1021.2 1220.2 L1030.4 1236.7 M1026.2 1242 L1049.7 1208.5 L1064.8 1202.2 M1030.4 1246.7 L1053.1 1213.5 L1064.8 1208.5 M1026.2 1242 L1033.3 1250.4 L1055.6 1272.3 L1064.8 1264.4 M1028.7 1239.2 L1056.4 1267.7 L1064.8 1260.2 M1039.6 1231.6 L1059.8 1251.8 M1039.6 1231.6 L1056.4 1208.1"/>
<path d="M890.2 1166.5 C891.5 1167.8 895.5 1170.9 897.7 1174 C899.9 1177.1 902 1181.5 903.3 1184.9 C904.6 1188.3 905.2 1192.7 905.6 1194.2 M896.5 1163.9 C897.8 1165.2 901.8 1168.4 904 1171.5 C906.2 1174.6 908.3 1179 909.6 1182.4 C910.9 1185.8 911.5 1190.2 911.9 1191.7 M902.8 1161.4 C904 1162.7 908.1 1165.9 910.3 1169 C912.5 1172.1 914.6 1176.6 915.9 1179.9 C917.2 1183.2 917.8 1187.6 918.2 1189.1 M909.1 1158.9 C910.4 1160.2 914.4 1163.4 916.6 1166.5 C918.8 1169.6 920.9 1174.1 922.2 1177.4 C923.5 1180.8 924.1 1185.1 924.5 1186.6 M915.4 1156.4 C916.6 1157.7 920.7 1160.8 922.9 1163.9 C925.1 1167 927.2 1171.5 928.5 1174.9 C929.8 1178.3 930.4 1182.6 930.8 1184.1 M921.7 1153.9 C923 1155.2 927 1158.3 929.2 1161.4 C931.4 1164.5 933.5 1168.9 934.8 1172.3 C936.1 1175.7 936.7 1180 937.1 1181.6 M928 1151.4 C929.2 1152.7 933.3 1155.8 935.5 1158.9 C937.7 1162 939.8 1166.4 941.1 1169.8 C942.4 1173.2 943 1177.5 943.4 1179.1 M934.3 1148.8 C935.5 1150.1 939.6 1153.3 941.8 1156.4 C944 1159.5 946.1 1164 947.4 1167.3 C948.7 1170.6 949.3 1175 949.7 1176.5 M940.6 1146.3 C941.9 1147.6 945.9 1150.8 948.1 1153.9 C950.3 1157 952.4 1161.5 953.7 1164.8 C955 1168.1 955.6 1172.5 956 1174 M946.9 1143.8 C948.1 1145.1 952.2 1148.3 954.4 1151.4 C956.6 1154.5 958.7 1159 960 1162.3 C961.3 1165.6 961.9 1170 962.3 1171.5 M953.2 1141.3 C954.5 1142.5 958.5 1145.7 960.7 1148.8 C962.9 1151.9 965 1156.4 966.3 1159.8 C967.6 1163.2 968.2 1167.5 968.6 1169 M959.5 1138.8 C960.8 1140 964.8 1143.2 967 1146.3 C969.2 1149.4 971.3 1153.8 972.6 1157.2 C973.9 1160.6 974.5 1165 974.9 1166.5 M965.8 1136.2 C967 1137.5 971.1 1140.7 973.3 1143.8 C975.5 1146.9 977.6 1151.3 978.9 1154.7 C980.2 1158.1 980.8 1162.4 981.2 1163.9" fill="none" stroke="#231f20" stroke-width="3" stroke-linecap="round"/>
<path class="ln" d="M887.2 1168.5 C888.4 1169.8 892.2 1172.9 894.2 1176 C896.2 1179.1 898.1 1183.8 899.3 1187 C900.5 1190.2 901 1194 901.3 1195.4 M893.5 1166 C894.7 1167.2 898.5 1170.4 900.5 1173.5 C902.5 1176.6 904.4 1181.2 905.6 1184.4 C906.8 1187.6 907.3 1191.4 907.6 1192.8 M899.8 1163.4 C901 1164.7 904.8 1167.9 906.8 1171 C908.8 1174.1 910.7 1178.7 911.9 1181.9 C913.1 1185.1 913.6 1188.9 913.9 1190.3 M906.1 1160.9 C907.3 1162.2 911.1 1165.4 913.1 1168.5 C915.1 1171.6 916.9 1176.2 918.1 1179.4 C919.3 1182.6 919.9 1186.4 920.2 1187.8 M912.4 1158.4 C913.6 1159.7 917.4 1162.9 919.4 1166 C921.4 1169.1 923.2 1173.7 924.4 1176.9 C925.6 1180.1 926.1 1183.9 926.5 1185.3 M918.7 1155.9 C919.9 1157.2 923.7 1160.3 925.7 1163.4 C927.7 1166.5 929.5 1171.2 930.7 1174.4 C931.9 1177.6 932.4 1181.4 932.8 1182.8 M924.9 1153.4 C926.1 1154.7 930 1157.8 932 1160.9 C934 1164 935.8 1168.6 937 1171.8 C938.2 1175 938.8 1178.8 939.1 1180.2 M931.2 1150.9 C932.4 1152.2 936.3 1155.3 938.3 1158.4 C940.3 1161.5 942.1 1166.1 943.3 1169.3 C944.5 1172.5 945 1176.3 945.4 1177.7 M937.5 1148.3 C938.7 1149.6 942.6 1152.8 944.6 1155.9 C946.6 1159 948.4 1163.6 949.6 1166.8 C950.8 1170 951.3 1173.8 951.6 1175.2 M943.8 1145.8 C945 1147.1 948.9 1150.3 950.9 1153.4 C952.9 1156.5 954.7 1161.1 955.9 1164.3 C957.1 1167.5 957.6 1171.3 957.9 1172.7 M950.1 1143.3 C951.3 1144.6 955.2 1147.8 957.2 1150.9 C959.2 1154 961 1158.6 962.2 1161.8 C963.4 1165 963.9 1168.8 964.2 1170.2 M956.4 1140.8 C957.6 1142 961.5 1145.2 963.5 1148.3 C965.5 1151.4 967.3 1156 968.5 1159.2 C969.7 1162.4 970.2 1166.2 970.5 1167.6 M962.7 1138.3 C963.9 1139.5 967.8 1142.7 969.8 1145.8 C971.8 1148.9 973.6 1153.5 974.8 1156.7 C976 1159.9 976.5 1163.7 976.8 1165.1"/>
<path d="M907 1198.4 L974.2 1171.5 L976.2 1182.9 L909 1211.5Z" fill="#fff" stroke="#231f20" stroke-width="1.8"/>
<path d="M910.3 1213.2 L909 1220.2 M915.4 1211.1 L914 1218.1 M920.4 1209 L919.1 1216 M925.5 1206.9 L924.1 1213.9 M930.5 1204.8 L929.1 1211.8 M935.5 1202.7 L934.2 1209.7 M940.6 1200.6 L939.2 1207.6 M945.6 1198.5 L944.3 1205.5 M950.6 1196.4 L949.3 1203.4 M955.7 1194.3 L954.3 1201.3 M960.7 1192.2 L959.4 1199.2 M965.8 1190.1 L964.4 1197.1 M970.8 1188 L969.5 1195 M975.8 1185.9 L974.5 1192.9" fill="none" stroke="#231f20" stroke-width="2.3"/>
<path d="M977.2 1169.8 L979.9 1185.4 M904.5 1199.7 L906.6 1213.2 M981.9 1168 L984.6 1183.6 M899.8 1201.6 L901.9 1215 M986.6 1166.1 L989.3 1181.7 M895.1 1203.4 L897.2 1216.8" fill="none" stroke="#231f20" stroke-width="2.2"/>
<text x="0" y="0" transform="translate(926.8 1205.1) rotate(-21.5) skewX(-12)" style="font-family:'Liberation Sans',sans-serif;font-weight:bold;font-size:17.5px;fill:#fff;stroke:#231f20;stroke-width:2.2px;paint-order:stroke" textLength="43" lengthAdjust="spacingAndGlyphs">WORX</text>
<ellipse cx="885.2" cy="1200.1" rx="14.5" ry="21" fill="#fff" stroke="#231f20" stroke-width="1.6" transform="rotate(-12 885.2 1200.1)"/>
<ellipse cx="885.2" cy="1200.1" rx="12.5" ry="18.5" fill="#fff" stroke="#231f20" stroke-width="1" transform="rotate(-12 885.2 1200.1)"/>
<ellipse cx="885.2" cy="1200.1" rx="10.5" ry="15.5" fill="#fff" stroke="#231f20" stroke-width="1.8" transform="rotate(-12 885.2 1200.1)"/>
<ellipse cx="885.2" cy="1200.1" rx="8" ry="12" fill="#fff" stroke="#231f20" stroke-width="1" transform="rotate(-12 885.2 1200.1)"/>
<ellipse cx="885.2" cy="1200.1" rx="6" ry="9.5" fill="#fff" stroke="#231f20" stroke-width="1.5" transform="rotate(-12 885.2 1200.1)"/>
<path class="ln" d="M875.1 1176.5 C874.5 1179 872 1186 871.7 1191.3 C871.4 1196.6 872 1203.3 873.4 1208.1 C874.8 1212.9 876.8 1217.1 880.1 1219.9 C883.5 1222.8 891.3 1224.3 893.5 1225.2"/>
<path d="M984.6 1112.7 L997.7 1107.4 L1011.1 1113.7 L999.3 1120Z" fill="#231f20"/>
<ellipse cx="1023.7" cy="1106.0" rx="9" ry="4.6" class="lw" style="stroke-width:1.8"/>
<ellipse cx="1033.4" cy="1247.1" rx="3.6" ry="2.2" class="ln" transform="rotate(45 1033.4 1247.1)"/>
<ellipse cx="1040.1" cy="1253.8" rx="3.6" ry="2.2" class="ln" transform="rotate(45 1040.1 1253.8)"/>
<ellipse cx="1046.9" cy="1260.5" rx="3.6" ry="2.2" class="ln" transform="rotate(45 1046.9 1260.5)"/>
<ellipse cx="1053.6" cy="1267.2" rx="3.6" ry="2.2" class="ln" transform="rotate(45 1053.6 1267.2)"/>
<path d="M1043.8 1233.3 L1064.8 1224.1 M1047.5 1237.3 L1064.8 1229.1 M1051.2 1241.4 L1064.8 1234.1 M1054.9 1245.4 L1064.8 1239.2 M1058.6 1249.4 L1064.8 1244.2" fill="none" stroke="#231f20" stroke-width="2.6"/>
<path d="M1043 1231.6 L1058.1 1211.5 L1064.8 1209" fill="none" stroke="#231f20" stroke-width="2.2"/>
<path d="M1039.6 1160.3 C1043.9 1156.2 1060.6 1148.7 1064.8 1150.2 C1069 1151.7 1068.7 1164.5 1064.8 1169.2 C1060.9 1174 1045.6 1177.8 1041.3 1178.7 C1037 1179.6 1039.3 1177.6 1039 1174.5 C1038.7 1171.4 1035.3 1164.3 1039.6 1160.3Z" class="lw" style="stroke-width:1.8"/>
<path class="ln" d="M1042.2 1162.8 L1064.8 1153.5M1043 1175.9 L1064.8 1167M1042.2 1162.8 L1043 1175.9"/>
<text x="0" y="0" transform="translate(1045.5 1173.7) rotate(-21) skewX(-12)" style="font-family:'Liberation Sans',sans-serif;font-weight:bold;font-size:12px;fill:#fff;stroke:#231f20;stroke-width:1.2px;paint-order:stroke">HYDROSHOT</text>
<path class="lt" d="M992.1 1216.8 m-2 -1 a2.4 1.3 30 1 0 4 2 a2.4 1.3 30 1 0 -4 -2 M1001.9 1238.3 m-2.5 -1.5 a3 1.2 45 1 0 5 3 a3 1.2 45 1 0 -5 -3"/>
<path d="M851.7 1286.6 L895.8 1268.1 L883.2 1264.6 L918.9 1265.6 L918.9 1278.6 L909.5 1274.4 L866.4 1294.6Z" class="bk"/>
<circle cx="743.7" cy="1190.9" r="20.3" class="lw" style="stroke-width:1.4"/>
<text x="743.7" y="1201.9" text-anchor="middle" style="font-family:'Liberation Sans',sans-serif;font-size:31px;fill:#231f20;stroke:#231f20;stroke-width:0.8px">2</text>
<circle cx="906.7" cy="1315" r="20.3" class="lw" style="stroke-width:1.4"/>
<text x="906.7" y="1326" text-anchor="middle" style="font-family:'Liberation Sans',sans-serif;font-size:31px;fill:#231f20;stroke:#231f20;stroke-width:0.8px">1</text>
</g>
<g transform="translate(952.9 1015.3)">
<rect x="0.6" y="0.6" width="99.4" height="74" rx="4.5" fill="#fff" stroke="#6d6e70" stroke-width="1.3"/>
<path d="M5.1 0.6 L9.7 5.5 L10.6 13.4 L34.6 35.6 L39.3 36.5 L47.6 31.4 L55 32.3 L60.5 35.7 L69.7 35.7 L79 33.7 L91.9 25.4 L93.9 21.7 L91 18 L76.2 0.9" fill="#fff" stroke="#231f20" stroke-width="2" stroke-linejoin="round"/>
<path d="M20.8 0.6 L57.3 0.6 L55 5.1 L35.6 6.2 L21.7 4Z" fill="#231f20"/>
<path d="M13.4 4.9 L34.6 4.6 L35.1 8.3 L13.9 8.6ZM14.3 9.9 L26.3 9.7 L27.2 13.2 L15.7 13.6Z" fill="#fff" stroke="#231f20" stroke-width="1.6" stroke-linejoin="round"/>
<path d="M26.3 13.4 L34.6 11.5 L43.9 6.9" fill="none" stroke="#231f20" stroke-width="2.4" stroke-linejoin="round"/>
<path d="M22.2 20 L32 14.3 L42 22.6 L32.8 30.2Z" fill="#3a3637" stroke="#231f20" stroke-width="2" stroke-linejoin="round"/>
<path d="M26.3 20 L32 16.9 L37.9 22.4 L32.6 26.8ZM30.9 22.6 L33.3 19.9 L34.6 23.6" fill="none" stroke="#fff" stroke-width="0.8"/>
<path d="M36.5 30.2 C37.2 28.9 42.8 26.5 44.8 26.3 C46.8 26.1 49.4 27.8 48.7 29.1 C48 30.4 42.4 33.7 40.4 33.9 C38.4 34.1 35.8 31.5 36.5 30.2Z" fill="#fff" stroke="#231f20" stroke-width="2" stroke-linejoin="round"/>
<path d="M43.9 7.4 C45.5 6.5 49.4 6.2 52.2 6 C55 5.8 58.2 4.8 60.5 6.2 C62.8 7.6 63.8 11 66 14.3 C68.2 17.7 73 23.5 73.6 26.3 C74.2 29.1 71.9 30.3 69.7 31.1 C67.5 31.9 63.3 32.1 60.5 31.1 C57.7 30.2 55.6 27.7 53.1 25.4 C50.6 23.1 47.5 19.8 45.7 17.5 C43.9 15.2 42.8 13.2 42.5 11.5 C42.2 9.8 42.3 8.3 43.9 7.4Z" fill="#fff" stroke="#231f20" stroke-width="2.6" stroke-linejoin="round"/>
<path d="M47.6 9.7 C49.2 8.3 56 7.8 58.6 8.8 C61.2 9.8 61.4 12.8 63.3 15.7 C65.1 18.6 68.9 24.1 69.7 26.3 C70.5 28.5 69.4 28.2 67.9 28.6 C66.5 29 63.1 29.2 61 28.4 C58.9 27.6 57 25.5 55 23.6 C53 21.7 50.2 19.2 49 16.9 C47.8 14.6 46 11 47.6 9.7Z" fill="none" stroke="#231f20" stroke-width="1.4" stroke-linejoin="round"/>
<path d="M60.5 5.8 L66.5 6.7 L79.4 20 L82.8 21.9 L79 24 L71.6 14.8 L64.7 9.7Z" fill="#231f20"/>
<path d="M60.5 9.7 L64.2 10.6 L72.5 27.2 L69.7 29.1 L66 18Z" fill="#231f20"/>
<path d="M55 32.3 L79 31.4 L91.9 23.6M86.4 23.6 L88.2 26.3" fill="none" stroke="#231f20" stroke-width="1.6"/>
<path d="M37.4 46.2 C37.9 43.9 39.7 41.1 42 39.4 C44.3 37.6 48.8 36.2 51.3 35.7 C53.8 35.2 53.1 34.3 57 36.7 C60.9 39.1 70.9 47.1 74.4 50.3 C77.9 53.5 78 53.9 78.2 55.9 C78.4 57.9 78.2 60.2 75.5 62.5 C72.8 64.8 65.4 68.5 62.3 69.9 C59.2 71.3 60.6 73.6 56.8 70.8 C53 68 42.5 57.4 39.3 53.3 C36.1 49.2 36.9 48.5 37.4 46.2Z" fill="#231f20" stroke="#231f20" stroke-width="1.6" stroke-linejoin="round"/>
<path d="M55 37.6 C55.7 36.9 54.6 34.8 57.9 37 C61.2 39.2 71.5 47.6 74.8 50.7 C78.1 53.9 77.4 54.1 77.5 55.9 C77.6 57.6 76.4 60.4 75.3 61.2 C74.2 62 71.7 61.3 71.1 60.5 C70.5 59.7 72.1 57.6 71.8 56.3 C71.5 55 72.3 55.1 69.3 52.6 C66.3 50.1 56 43.6 53.6 41.1 C51.2 38.6 54.3 38.3 55 37.6Z" fill="#fff"/>
<path d="M55.9 39.1 C58.8 41.4 69.8 50 73 52.9 C76.2 55.8 74.9 55.3 75.1 56.6 C75.2 57.9 74.1 59.9 73.9 60.5" fill="none" stroke="#231f20" stroke-width="1.2"/>
<path d="M47.6 55 L57.7 49.4 L68.8 58.6 L59.6 66Z" fill="#fff"/>
<circle cx="58.2" cy="56.3" r="1.1" fill="#231f20"/>
<path d="M20.8 50.3 L25.4 45.7 L36.5 57.9 L39.8 55.4 L40.7 66.2 L29.1 64.4 L32.8 62Z" fill="#231f20"/>
</g>
<!-- FRAMES -->
<g id="frames" fill="#231f20">
<path fill-rule="evenodd" d="M119 118H574.4V525.8H119Z M125.1 123.9V216.2H568.5V123.9Z M125.1 222.1V519.6H568.5V222.1Z"/>
<rect x="119" y="118" width="59.8" height="60.6"/>
<path fill-rule="evenodd" d="M609.4 119.2H1066.9V526.9H609.4Z M616.7 124.9V216.2H1060.1V124.9Z M616.7 223.2V521H1060.1V223.2Z"/>
<rect x="609.4" y="119.2" width="59.7" height="59.4"/>
<path fill-rule="evenodd" d="M119 559.4H574.4V968.8H119Z M125.1 566.8V657.9H568.5V566.8Z M125.1 663.9V961.4H568.5V663.9Z"/>
<rect x="119" y="559.4" width="59.6" height="60.7"/>
<path fill-rule="evenodd" d="M610.8 559.6H1066.9V967.6H610.8Z M617.8 565.7V656.8H1061.4V565.7Z M617.8 663.9V961.8H1061.4V663.9Z"/>
<rect x="610.8" y="559.6" width="59.2" height="59"/>
<path fill-rule="evenodd" d="M121.9 1000H580.6V1411.6H121.9Z M127.7 1005.9V1098.3H574.8V1005.9Z M127.7 1104.2V1404.5H574.8V1104.2Z"/>
<rect x="121.9" y="1000" width="59.3" height="59.3"/>
<path fill-rule="evenodd" d="M608.1 999H1068.5V1410.4H608.1Z M615.5 1004.8V1098.3H1061.4V1004.8Z M615.5 1104.2V1404.5H1061.4V1104.2Z"/>
<rect x="608.1" y="999" width="58.4" height="59.1"/>
</g>
<!-- LABELS -->
<g id="labels">
<text class="lab" transform="translate(138.2 158.3)">F</text>
<text class="lab" transform="translate(625.7 158.9) scale(1.054 1)">G</text>
<text class="lab" transform="translate(134.4 599.7) scale(1.133 1)">H</text>
<text class="lab" transform="translate(631.4 599.7) scale(1.55 1)">I</text>
<text class="lab" transform="translate(143.2 1040.2) scale(1.22 1)">J</text>
<text class="lab" x="614.6" y="1038.2" textLength="20" lengthAdjust="spacingAndGlyphs" style="font-size:31.5px">K</text>
<text class="lab" x="636" y="1038.2" style="font-size:31.5px;stroke-width:2px">1</text>
<text class="lab" x="654.6" y="1034.4" textLength="11" lengthAdjust="spacingAndGlyphs" style="font-size:26px;stroke-width:0.8px">*</text>
</g>
<!-- BOOK ICONS -->
<use href="#book" x="522.7" y="172.2"/>
<use href="#book" x="902.2" y="174.2"/>
<use href="#book" x="522.5" y="610.1"/>
<use href="#book" x="1009.7" y="610.2"/>
<use href="#book" x="522.2" y="1053.3"/>
</svg>
</body></html>
